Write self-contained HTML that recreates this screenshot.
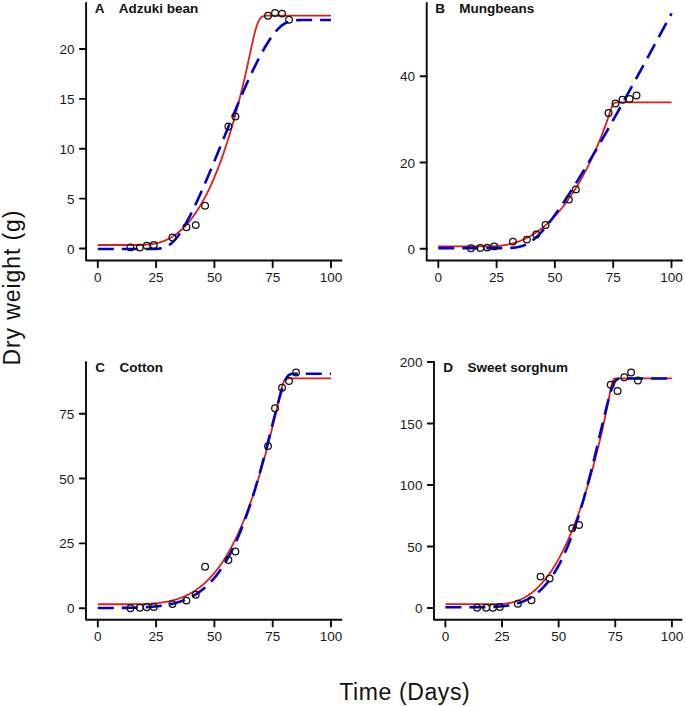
<!DOCTYPE html>
<html><head><meta charset="utf-8"><style>
html,body{margin:0;padding:0;background:#fff;}
body{width:685px;height:706px;overflow:hidden;position:relative;}
svg{position:absolute;left:0;top:0;}
.ax{stroke:#0a0a0a;stroke-width:1.9;fill:none;stroke-linecap:round;stroke-linejoin:round;}
.tl{font-family:"Liberation Sans",sans-serif;font-size:13.5px;fill:#1a1a1a;}
.tt{font-family:"Liberation Sans",sans-serif;font-size:13.5px;font-weight:bold;fill:#111;}
.lab{font-family:"Liberation Sans",sans-serif;font-size:23px;fill:#111;}
.red{stroke:#dc1e1e;stroke-width:1.8;fill:none;stroke-linejoin:round;}
.blue{stroke:#0000c8;stroke-width:2.6;fill:none;stroke-dasharray:16 8;stroke-linejoin:round;}
.pt{stroke:#111;stroke-width:1.25;fill:none;}
</style></head><body>
<svg width="685" height="706" viewBox="0 0 685 706">
<path d="M86.1 2.9V260.5H341.5" class="ax"/>
<path d="M97.8 260.5V267.3" class="ax"/>
<text x="97.8" y="281.9" class="tl" text-anchor="middle">0</text>
<path d="M156.1 260.5V267.3" class="ax"/>
<text x="156.1" y="281.9" class="tl" text-anchor="middle">25</text>
<path d="M214.4 260.5V267.3" class="ax"/>
<text x="214.4" y="281.9" class="tl" text-anchor="middle">50</text>
<path d="M272.7 260.5V267.3" class="ax"/>
<text x="272.7" y="281.9" class="tl" text-anchor="middle">75</text>
<path d="M331 260.5V267.3" class="ax"/>
<text x="331" y="281.9" class="tl" text-anchor="middle">100</text>
<path d="M79.9 248.5H86.1" class="ax"/>
<text x="74.5" y="253.5" class="tl" text-anchor="end">0</text>
<path d="M79.9 198.62H86.1" class="ax"/>
<text x="74.5" y="203.62" class="tl" text-anchor="end">5</text>
<path d="M79.9 148.75H86.1" class="ax"/>
<text x="74.5" y="153.75" class="tl" text-anchor="end">10</text>
<path d="M79.9 98.88H86.1" class="ax"/>
<text x="74.5" y="103.88" class="tl" text-anchor="end">15</text>
<path d="M79.9 49H86.1" class="ax"/>
<text x="74.5" y="54" class="tl" text-anchor="end">20</text>
<text x="94.7" y="13.4" class="tt">A</text>
<text x="118.7" y="13.4" class="tt">Adzuki bean</text>
<path d="M97.80 245.02 98.09 245.02 98.38 245.02 98.67 245.02 98.97 245.02 99.26 245.02 99.55 245.02 99.84 245.02 100.13 245.02 100.42 245.02 100.72 245.02 101.01 245.02 101.30 245.02 101.59 245.02 101.88 245.02 102.17 245.02 102.46 245.02 102.76 245.02 103.05 245.02 103.34 245.02 103.63 245.02 103.92 245.02 104.21 245.02 104.50 245.02 104.80 245.02 105.09 245.02 105.38 245.02 105.67 245.02 105.96 245.02 106.25 245.02 106.55 245.02 106.84 245.02 107.13 245.02 107.42 245.02 107.71 245.02 108.00 245.02 108.29 245.02 108.59 245.02 108.88 245.02 109.17 245.02 109.46 245.02 109.75 245.02 110.04 245.02 110.33 245.02 110.63 245.02 110.92 245.02 111.21 245.02 111.50 245.02 111.79 245.02 112.08 245.02 112.38 245.02 112.67 245.02 112.96 245.02 113.25 245.02 113.54 245.02 113.83 245.02 114.12 245.02 114.42 245.02 114.71 245.02 115.00 245.02 115.29 245.02 115.58 245.02 115.87 245.02 116.16 245.02 116.46 245.02 116.75 245.02 117.04 245.02 117.33 245.02 117.62 245.02 117.91 245.02 118.20 245.02 118.50 245.02 118.79 245.02 119.08 245.02 119.37 245.02 119.66 245.02 119.95 245.02 120.25 245.02 120.54 245.02 120.83 245.02 121.12 245.02 121.41 245.02 121.70 245.02 121.99 245.02 122.29 245.02 122.58 245.02 122.87 245.02 123.16 245.02 123.45 245.02 123.74 245.02 124.03 245.02 124.33 245.02 124.62 245.02 124.91 245.02 125.20 245.02 125.49 245.02 125.78 245.02 126.08 245.02 126.37 245.02 126.66 245.02 126.95 245.02 127.24 245.02 127.53 245.02 127.82 245.02 128.12 245.02 128.41 245.02 128.70 245.02 128.99 245.02 129.28 245.02 129.57 245.02 129.87 245.02 130.16 245.02 130.45 245.02 130.74 245.02 131.03 245.02 131.32 245.02 131.61 245.02 131.91 245.02 132.20 245.02 132.49 245.02 132.78 245.02 133.07 245.02 133.36 245.02 133.65 245.02 133.95 245.02 134.24 245.02 134.53 245.02 134.82 245.02 135.11 245.02 135.40 245.02 135.69 245.02 135.99 245.02 136.28 245.01 136.57 245.01 136.86 245.01 137.15 245.01 137.44 245.01 137.74 245.00 138.03 245.00 138.32 245.00 138.61 245.00 138.90 244.99 139.19 244.99 139.48 244.98 139.78 244.98 140.07 244.97 140.36 244.97 140.65 244.96 140.94 244.96 141.23 244.95 141.52 244.94 141.82 244.93 142.11 244.92 142.40 244.91 142.69 244.90 142.98 244.89 143.27 244.88 143.57 244.87 143.86 244.86 144.15 244.84 144.44 244.83 144.73 244.81 145.02 244.80 145.31 244.78 145.61 244.76 145.90 244.74 146.19 244.72 146.48 244.70 146.77 244.68 147.06 244.66 147.35 244.63 147.65 244.61 147.94 244.58 148.23 244.55 148.52 244.53 148.81 244.50 149.10 244.47 149.40 244.43 149.69 244.40 149.98 244.37 150.27 244.33 150.56 244.30 150.85 244.26 151.14 244.22 151.44 244.18 151.73 244.14 152.02 244.09 152.31 244.05 152.60 244.00 152.89 243.95 153.19 243.91 153.48 243.86 153.77 243.80 154.06 243.75 154.35 243.70 154.64 243.64 154.93 243.58 155.23 243.52 155.52 243.46 155.81 243.40 156.10 243.33 156.39 243.27 156.68 243.20 156.97 243.13 157.27 243.06 157.56 242.99 157.85 242.91 158.14 242.84 158.43 242.76 158.72 242.68 159.01 242.60 159.31 242.52 159.60 242.43 159.89 242.34 160.18 242.26 160.47 242.17 160.76 242.07 161.06 241.98 161.35 241.88 161.64 241.78 161.93 241.68 162.22 241.58 162.51 241.48 162.80 241.37 163.10 241.26 163.39 241.15 163.68 241.04 163.97 240.93 164.26 240.81 164.55 240.69 164.84 240.57 165.14 240.45 165.43 240.33 165.72 240.20 166.01 240.07 166.30 239.94 166.59 239.80 166.89 239.67 167.18 239.53 167.47 239.39 167.76 239.25 168.05 239.10 168.34 238.96 168.63 238.81 168.93 238.66 169.22 238.50 169.51 238.35 169.80 238.19 170.09 238.03 170.38 237.86 170.68 237.70 170.97 237.53 171.26 237.36 171.55 237.18 171.84 237.01 172.13 236.83 172.42 236.65 172.72 236.46 173.01 236.28 173.30 236.09 173.59 235.90 173.88 235.71 174.17 235.51 174.46 235.31 174.76 235.11 175.05 234.91 175.34 234.70 175.63 234.49 175.92 234.28 176.21 234.06 176.50 233.85 176.80 233.63 177.09 233.40 177.38 233.18 177.67 232.95 177.96 232.72 178.25 232.48 178.55 232.25 178.84 232.01 179.13 231.76 179.42 231.52 179.71 231.27 180.00 231.02 180.29 230.77 180.59 230.51 180.88 230.25 181.17 229.99 181.46 229.72 181.75 229.45 182.04 229.18 182.33 228.90 182.63 228.63 182.92 228.35 183.21 228.06 183.50 227.78 183.79 227.49 184.08 227.19 184.38 226.90 184.67 226.60 184.96 226.29 185.25 225.99 185.54 225.68 185.83 225.37 186.12 225.05 186.42 224.74 186.71 224.41 187.00 224.09 187.29 223.76 187.58 223.43 187.87 223.10 188.16 222.76 188.46 222.42 188.75 222.07 189.04 221.73 189.33 221.38 189.62 221.02 189.91 220.66 190.21 220.30 190.50 219.94 190.79 219.57 191.08 219.20 191.37 218.82 191.66 218.45 191.95 218.07 192.25 217.68 192.54 217.29 192.83 216.90 193.12 216.50 193.41 216.11 193.70 215.70 194.00 215.30 194.29 214.89 194.58 214.47 194.87 214.06 195.16 213.64 195.45 213.21 195.74 212.78 196.04 212.35 196.33 211.92 196.62 211.48 196.91 211.04 197.20 210.59 197.49 210.14 197.78 209.69 198.08 209.23 198.37 208.77 198.66 208.30 198.95 207.84 199.24 207.36 199.53 206.89 199.82 206.41 200.12 205.92 200.41 205.44 200.70 204.94 200.99 204.45 201.28 203.95 201.57 203.45 201.87 202.94 202.16 202.43 202.45 201.91 202.74 201.39 203.03 200.87 203.32 200.34 203.61 199.81 203.91 199.28 204.20 198.74 204.49 198.19 204.78 197.65 205.07 197.10 205.36 196.54 205.65 195.98 205.95 195.42 206.24 194.85 206.53 194.28 206.82 193.70 207.11 193.12 207.40 192.54 207.70 191.95 207.99 191.36 208.28 190.76 208.57 190.16 208.86 189.55 209.15 188.94 209.44 188.33 209.74 187.71 210.03 187.09 210.32 186.46 210.61 185.83 210.90 185.19 211.19 184.55 211.48 183.91 211.78 183.26 212.07 182.61 212.36 181.95 212.65 181.29 212.94 180.62 213.23 179.95 213.53 179.27 213.82 178.59 214.11 177.91 214.40 177.22 214.69 176.52 214.98 175.83 215.27 175.12 215.57 174.42 215.86 173.70 216.15 172.99 216.44 172.27 216.73 171.54 217.02 170.81 217.31 170.07 217.61 169.33 217.90 168.59 218.19 167.84 218.48 167.09 218.77 166.33 219.06 165.56 219.36 164.79 219.65 164.02 219.94 163.24 220.23 162.46 220.52 161.67 220.81 160.88 221.10 160.08 221.40 159.28 221.69 158.47 221.98 157.66 222.27 156.84 222.56 156.02 222.85 155.19 223.14 154.36 223.44 153.52 223.73 152.68 224.02 151.84 224.31 150.98 224.60 150.13 224.89 149.26 225.19 148.40 225.48 147.52 225.77 146.65 226.06 145.76 226.35 144.87 226.64 143.98 226.93 143.08 227.23 142.18 227.52 141.27 227.81 140.36 228.10 139.44 228.39 138.51 228.68 137.58 228.97 136.65 229.27 135.71 229.56 134.76 229.85 133.81 230.14 132.85 230.43 131.89 230.72 130.92 231.02 129.95 231.31 128.97 231.60 127.99 231.89 127.00 232.18 126.00 232.47 125.00 232.76 123.99 233.06 122.98 233.35 121.96 233.64 120.94 233.93 119.91 234.22 118.88 234.51 117.84 234.81 116.79 235.10 115.74 235.39 114.68 235.68 113.62 235.97 112.55 236.26 111.47 236.55 110.39 236.85 109.30 237.14 108.21 237.43 107.11 237.72 106.01 238.01 104.90 238.30 103.78 238.59 102.66 238.89 101.53 239.18 100.39 239.47 99.25 239.76 98.10 240.05 96.95 240.34 95.79 240.63 94.62 240.93 93.45 241.22 92.27 241.51 91.09 241.80 89.90 242.09 88.70 242.38 87.49 242.68 86.28 242.97 85.06 243.26 83.84 243.55 82.61 243.84 81.37 244.13 80.13 244.42 78.88 244.72 77.62 245.01 76.35 245.30 75.08 245.59 73.80 245.88 72.52 246.17 71.23 246.46 69.93 246.76 68.63 247.05 67.32 247.34 66.00 247.63 64.68 247.92 63.35 248.21 62.01 248.51 60.67 248.80 59.33 249.09 57.98 249.38 56.63 249.67 55.28 249.96 53.92 250.25 52.57 250.55 51.21 250.84 49.86 251.13 48.51 251.42 47.16 251.71 45.82 252.00 44.49 252.29 43.17 252.59 41.86 252.88 40.56 253.17 39.28 253.46 38.02 253.75 36.78 254.04 35.56 254.34 34.37 254.63 33.20 254.92 32.07 255.21 30.97 255.50 29.91 255.79 28.88 256.08 27.89 256.38 26.94 256.67 26.03 256.96 25.16 257.25 24.34 257.54 23.57 257.83 22.83 258.12 22.15 258.42 21.51 258.71 20.91 259.00 20.35 259.29 19.84 259.58 19.37 259.87 18.94 260.17 18.54 260.46 18.18 260.75 17.86 261.04 17.57 261.33 17.31 261.62 17.08 261.91 16.87 262.21 16.69 262.50 16.53 262.79 16.39 263.08 16.27 263.37 16.17 263.66 16.08 263.95 16.00 264.25 15.93 264.54 15.88 264.83 15.83 265.12 15.79 265.41 15.76 265.70 15.73 266.00 15.70 266.29 15.69 266.58 15.67 266.87 15.66 267.16 15.65 267.45 15.64 267.74 15.63 268.04 15.63 268.33 15.62 268.62 15.62 268.91 15.62 269.20 15.62 269.49 15.61 269.78 15.61 270.08 15.61 270.37 15.61 270.66 15.61 270.95 15.61 271.24 15.61 271.53 15.61 271.83 15.61 272.12 15.61 272.41 15.61 272.70 15.61 272.99 15.61 273.28 15.61 273.57 15.61 273.87 15.61 274.16 15.61 274.45 15.61 274.74 15.61 275.03 15.61 275.32 15.61 275.62 15.61 275.91 15.61 276.20 15.61 276.49 15.61 276.78 15.61 277.07 15.61 277.36 15.61 277.66 15.61 277.95 15.61 278.24 15.61 278.53 15.61 278.82 15.61 279.11 15.61 279.40 15.61 279.70 15.61 279.99 15.61 280.28 15.61 280.57 15.61 280.86 15.61 281.15 15.61 281.44 15.61 281.74 15.61 282.03 15.61 282.32 15.61 282.61 15.61 282.90 15.61 283.19 15.61 283.49 15.61 283.78 15.61 284.07 15.61 284.36 15.61 284.65 15.61 284.94 15.61 285.23 15.61 285.53 15.61 285.82 15.61 286.11 15.61 286.40 15.61 286.69 15.61 286.98 15.61 287.27 15.61 287.57 15.61 287.86 15.61 288.15 15.61 288.44 15.61 288.73 15.61 289.02 15.61 289.32 15.61 289.61 15.61 289.90 15.61 290.19 15.61 290.48 15.61 290.77 15.61 291.06 15.61 291.36 15.61 291.65 15.61 291.94 15.61 292.23 15.61 292.52 15.61 292.81 15.61 293.10 15.61 293.40 15.61 293.69 15.61 293.98 15.61 294.27 15.61 294.56 15.61 294.85 15.61 295.15 15.61 295.44 15.61 295.73 15.61 296.02 15.61 296.31 15.61 296.60 15.61 296.89 15.61 297.19 15.61 297.48 15.61 297.77 15.61 298.06 15.61 298.35 15.61 298.64 15.61 298.94 15.61 299.23 15.61 299.52 15.61 299.81 15.61 300.10 15.61 300.39 15.61 300.68 15.61 300.98 15.61 301.27 15.61 301.56 15.61 301.85 15.61 302.14 15.61 302.43 15.61 302.72 15.61 303.02 15.61 303.31 15.61 303.60 15.61 303.89 15.61 304.18 15.61 304.47 15.61 304.76 15.61 305.06 15.61 305.35 15.61 305.64 15.61 305.93 15.61 306.22 15.61 306.51 15.61 306.81 15.61 307.10 15.61 307.39 15.61 307.68 15.61 307.97 15.61 308.26 15.61 308.55 15.61 308.85 15.61 309.14 15.61 309.43 15.61 309.72 15.61 310.01 15.61 310.30 15.61 310.59 15.61 310.89 15.61 311.18 15.61 311.47 15.61 311.76 15.61 312.05 15.61 312.34 15.61 312.64 15.61 312.93 15.61 313.22 15.61 313.51 15.61 313.80 15.61 314.09 15.61 314.38 15.61 314.68 15.61 314.97 15.61 315.26 15.61 315.55 15.61 315.84 15.61 316.13 15.61 316.43 15.61 316.72 15.61 317.01 15.61 317.30 15.61 317.59 15.61 317.88 15.61 318.17 15.61 318.47 15.61 318.76 15.61 319.05 15.61 319.34 15.61 319.63 15.61 319.92 15.61 320.21 15.61 320.51 15.61 320.80 15.61 321.09 15.61 321.38 15.61 321.67 15.61 321.96 15.61 322.25 15.61 322.55 15.61 322.84 15.61 323.13 15.61 323.42 15.61 323.71 15.61 324.00 15.61 324.30 15.61 324.59 15.61 324.88 15.61 325.17 15.61 325.46 15.61 325.75 15.61 326.04 15.61 326.34 15.61 326.63 15.61 326.92 15.61 327.21 15.61 327.50 15.61 327.79 15.61 328.08 15.61 328.38 15.61 328.67 15.61 328.96 15.61 329.25 15.61 329.54 15.61 329.83 15.61 330.13 15.61 330.42 15.61 330.71 15.61 331.00 15.61" class="red"/>
<path d="M97.80 249.05 98.09 249.05 98.38 249.05 98.67 249.05 98.97 249.05 99.26 249.05 99.55 249.05 99.84 249.05 100.13 249.05 100.42 249.05 100.72 249.05 101.01 249.05 101.30 249.05 101.59 249.05 101.88 249.05 102.17 249.05 102.46 249.05 102.76 249.05 103.05 249.05 103.34 249.05 103.63 249.05 103.92 249.05 104.21 249.05 104.50 249.05 104.80 249.05 105.09 249.05 105.38 249.05 105.67 249.05 105.96 249.05 106.25 249.05 106.55 249.05 106.84 249.05 107.13 249.05 107.42 249.05 107.71 249.05 108.00 249.05 108.29 249.05 108.59 249.05 108.88 249.05 109.17 249.05 109.46 249.05 109.75 249.05 110.04 249.05 110.33 249.05 110.63 249.05 110.92 249.05 111.21 249.05 111.50 249.05 111.79 249.05 112.08 249.05 112.38 249.05 112.67 249.05 112.96 249.05 113.25 249.05 113.54 249.05 113.83 249.05 114.12 249.05 114.42 249.05 114.71 249.05 115.00 249.05 115.29 249.05 115.58 249.05 115.87 249.05 116.16 249.05 116.46 249.05 116.75 249.05 117.04 249.05 117.33 249.05 117.62 249.05 117.91 249.05 118.20 249.05 118.50 249.05 118.79 249.05 119.08 249.05 119.37 249.05 119.66 249.05 119.95 249.05 120.25 249.05 120.54 249.05 120.83 249.05 121.12 249.05 121.41 249.05 121.70 249.05 121.99 249.05 122.29 249.05 122.58 249.05 122.87 249.05 123.16 249.05 123.45 249.05 123.74 249.05 124.03 249.05 124.33 249.05 124.62 249.05 124.91 249.05 125.20 249.05 125.49 249.05 125.78 249.05 126.08 249.05 126.37 249.05 126.66 249.05 126.95 249.05 127.24 249.05 127.53 249.05 127.82 249.05 128.12 249.05 128.41 249.05 128.70 249.05 128.99 249.05 129.28 249.05 129.57 249.05 129.87 249.05 130.16 249.05 130.45 249.05 130.74 249.05 131.03 249.05 131.32 249.05 131.61 249.05 131.91 249.05 132.20 249.05 132.49 249.05 132.78 249.05 133.07 249.05 133.36 249.05 133.65 249.05 133.95 249.05 134.24 249.05 134.53 249.05 134.82 249.05 135.11 249.05 135.40 249.05 135.69 249.05 135.99 249.05 136.28 249.05 136.57 249.05 136.86 249.05 137.15 249.05 137.44 249.05 137.74 249.05 138.03 249.05 138.32 249.05 138.61 249.05 138.90 249.05 139.19 249.05 139.48 249.05 139.78 249.05 140.07 249.05 140.36 249.05 140.65 249.05 140.94 249.05 141.23 249.05 141.52 249.05 141.82 249.05 142.11 249.05 142.40 249.05 142.69 249.05 142.98 249.05 143.27 249.05 143.57 249.05 143.86 249.05 144.15 249.05 144.44 249.05 144.73 249.05 145.02 249.05 145.31 249.05 145.61 249.05 145.90 249.05 146.19 249.05 146.48 249.05 146.77 249.05 147.06 249.05 147.35 249.05 147.65 249.05 147.94 249.05 148.23 249.04 148.52 249.04 148.81 249.04 149.10 249.04 149.40 249.04 149.69 249.04 149.98 249.03 150.27 249.03 150.56 249.03 150.85 249.02 151.14 249.02 151.44 249.02 151.73 249.01 152.02 249.01 152.31 249.00 152.60 249.00 152.89 248.99 153.19 248.98 153.48 248.98 153.77 248.97 154.06 248.96 154.35 248.95 154.64 248.94 154.93 248.93 155.23 248.91 155.52 248.90 155.81 248.88 156.10 248.87 156.39 248.85 156.68 248.83 156.97 248.81 157.27 248.79 157.56 248.76 157.85 248.74 158.14 248.71 158.43 248.68 158.72 248.65 159.01 248.61 159.31 248.57 159.60 248.53 159.89 248.49 160.18 248.45 160.47 248.40 160.76 248.35 161.06 248.30 161.35 248.24 161.64 248.18 161.93 248.11 162.22 248.05 162.51 247.97 162.80 247.90 163.10 247.82 163.39 247.73 163.68 247.65 163.97 247.55 164.26 247.46 164.55 247.35 164.84 247.25 165.14 247.13 165.43 247.01 165.72 246.89 166.01 246.76 166.30 246.63 166.59 246.49 166.89 246.34 167.18 246.19 167.47 246.04 167.76 245.87 168.05 245.70 168.34 245.53 168.63 245.35 168.93 245.16 169.22 244.96 169.51 244.76 169.80 244.55 170.09 244.34 170.38 244.12 170.68 243.89 170.97 243.66 171.26 243.42 171.55 243.17 171.84 242.91 172.13 242.65 172.42 242.38 172.72 242.11 173.01 241.83 173.30 241.54 173.59 241.24 173.88 240.94 174.17 240.63 174.46 240.32 174.76 240.00 175.05 239.67 175.34 239.34 175.63 238.99 175.92 238.65 176.21 238.29 176.50 237.93 176.80 237.57 177.09 237.20 177.38 236.82 177.67 236.44 177.96 236.05 178.25 235.65 178.55 235.25 178.84 234.84 179.13 234.43 179.42 234.01 179.71 233.59 180.00 233.16 180.29 232.73 180.59 232.29 180.88 231.84 181.17 231.39 181.46 230.94 181.75 230.48 182.04 230.02 182.33 229.55 182.63 229.08 182.92 228.60 183.21 228.12 183.50 227.63 183.79 227.14 184.08 226.64 184.38 226.14 184.67 225.64 184.96 225.13 185.25 224.62 185.54 224.11 185.83 223.59 186.12 223.07 186.42 222.54 186.71 222.01 187.00 221.47 187.29 220.94 187.58 220.40 187.87 219.85 188.16 219.30 188.46 218.75 188.75 218.20 189.04 217.64 189.33 217.08 189.62 216.52 189.91 215.95 190.21 215.38 190.50 214.81 190.79 214.23 191.08 213.65 191.37 213.07 191.66 212.49 191.95 211.90 192.25 211.31 192.54 210.72 192.83 210.12 193.12 209.53 193.41 208.93 193.70 208.32 194.00 207.72 194.29 207.11 194.58 206.50 194.87 205.89 195.16 205.27 195.45 204.66 195.74 204.04 196.04 203.42 196.33 202.79 196.62 202.17 196.91 201.54 197.20 200.91 197.49 200.28 197.78 199.64 198.08 199.01 198.37 198.37 198.66 197.73 198.95 197.09 199.24 196.44 199.53 195.80 199.82 195.15 200.12 194.50 200.41 193.85 200.70 193.20 200.99 192.54 201.28 191.89 201.57 191.23 201.87 190.57 202.16 189.91 202.45 189.25 202.74 188.58 203.03 187.92 203.32 187.25 203.61 186.58 203.91 185.91 204.20 185.24 204.49 184.57 204.78 183.89 205.07 183.22 205.36 182.54 205.65 181.86 205.95 181.18 206.24 180.50 206.53 179.82 206.82 179.14 207.11 178.46 207.40 177.77 207.70 177.08 207.99 176.40 208.28 175.71 208.57 175.02 208.86 174.33 209.15 173.64 209.44 172.94 209.74 172.25 210.03 171.56 210.32 170.86 210.61 170.17 210.90 169.47 211.19 168.77 211.48 168.07 211.78 167.37 212.07 166.67 212.36 165.97 212.65 165.27 212.94 164.57 213.23 163.87 213.53 163.16 213.82 162.46 214.11 161.75 214.40 161.05 214.69 160.34 214.98 159.63 215.27 158.93 215.57 158.22 215.86 157.51 216.15 156.80 216.44 156.09 216.73 155.38 217.02 154.67 217.31 153.96 217.61 153.25 217.90 152.54 218.19 151.83 218.48 151.12 218.77 150.41 219.06 149.69 219.36 148.98 219.65 148.27 219.94 147.56 220.23 146.84 220.52 146.13 220.81 145.42 221.10 144.70 221.40 143.99 221.69 143.27 221.98 142.56 222.27 141.85 222.56 141.13 222.85 140.42 223.14 139.70 223.44 138.99 223.73 138.28 224.02 137.56 224.31 136.85 224.60 136.13 224.89 135.42 225.19 134.71 225.48 133.99 225.77 133.28 226.06 132.57 226.35 131.86 226.64 131.14 226.93 130.43 227.23 129.72 227.52 129.01 227.81 128.30 228.10 127.58 228.39 126.87 228.68 126.16 228.97 125.45 229.27 124.74 229.56 124.04 229.85 123.33 230.14 122.62 230.43 121.91 230.72 121.20 231.02 120.50 231.31 119.79 231.60 119.09 231.89 118.38 232.18 117.68 232.47 116.97 232.76 116.27 233.06 115.57 233.35 114.87 233.64 114.17 233.93 113.47 234.22 112.77 234.51 112.07 234.81 111.37 235.10 110.67 235.39 109.98 235.68 109.28 235.97 108.58 236.26 107.89 236.55 107.20 236.85 106.51 237.14 105.81 237.43 105.12 237.72 104.44 238.01 103.75 238.30 103.06 238.59 102.37 238.89 101.69 239.18 101.00 239.47 100.32 239.76 99.64 240.05 98.96 240.34 98.28 240.63 97.60 240.93 96.92 241.22 96.25 241.51 95.57 241.80 94.90 242.09 94.23 242.38 93.56 242.68 92.89 242.97 92.22 243.26 91.55 243.55 90.88 243.84 90.22 244.13 89.56 244.42 88.90 244.72 88.24 245.01 87.58 245.30 86.92 245.59 86.27 245.88 85.61 246.17 84.96 246.46 84.31 246.76 83.66 247.05 83.01 247.34 82.37 247.63 81.72 247.92 81.08 248.21 80.44 248.51 79.80 248.80 79.16 249.09 78.53 249.38 77.89 249.67 77.26 249.96 76.63 250.25 76.00 250.55 75.37 250.84 74.75 251.13 74.13 251.42 73.51 251.71 72.89 252.00 72.27 252.29 71.66 252.59 71.04 252.88 70.43 253.17 69.82 253.46 69.22 253.75 68.61 254.04 68.01 254.34 67.41 254.63 66.81 254.92 66.22 255.21 65.63 255.50 65.04 255.79 64.45 256.08 63.86 256.38 63.28 256.67 62.70 256.96 62.12 257.25 61.54 257.54 60.97 257.83 60.40 258.12 59.83 258.42 59.26 258.71 58.70 259.00 58.14 259.29 57.58 259.58 57.02 259.87 56.47 260.17 55.92 260.46 55.37 260.75 54.83 261.04 54.28 261.33 53.75 261.62 53.21 261.91 52.68 262.21 52.15 262.50 51.62 262.79 51.09 263.08 50.57 263.37 50.06 263.66 49.54 263.95 49.03 264.25 48.52 264.54 48.02 264.83 47.51 265.12 47.02 265.41 46.52 265.70 46.03 266.00 45.54 266.29 45.06 266.58 44.57 266.87 44.10 267.16 43.62 267.45 43.15 267.74 42.68 268.04 42.22 268.33 41.76 268.62 41.31 268.91 40.86 269.20 40.41 269.49 39.96 269.78 39.52 270.08 39.09 270.37 38.66 270.66 38.23 270.95 37.81 271.24 37.39 271.53 36.97 271.83 36.56 272.12 36.16 272.41 35.76 272.70 35.36 272.99 34.97 273.28 34.58 273.57 34.20 273.87 33.82 274.16 33.45 274.45 33.08 274.74 32.72 275.03 32.36 275.32 32.01 275.62 31.66 275.91 31.32 276.20 30.98 276.49 30.65 276.78 30.32 277.07 30.00 277.36 29.68 277.66 29.37 277.95 29.06 278.24 28.76 278.53 28.47 278.82 28.18 279.11 27.90 279.40 27.62 279.70 27.35 279.99 27.08 280.28 26.82 280.57 26.57 280.86 26.32 281.15 26.08 281.44 25.84 281.74 25.61 282.03 25.38 282.32 25.16 282.61 24.95 282.90 24.74 283.19 24.54 283.49 24.34 283.78 24.15 284.07 23.96 284.36 23.78 284.65 23.61 284.94 23.44 285.23 23.27 285.53 23.12 285.82 22.96 286.11 22.82 286.40 22.67 286.69 22.54 286.98 22.40 287.27 22.28 287.57 22.15 287.86 22.04 288.15 21.92 288.44 21.82 288.73 21.71 289.02 21.61 289.32 21.52 289.61 21.43 289.90 21.34 290.19 21.26 290.48 21.18 290.77 21.11 291.06 21.04 291.36 20.97 291.65 20.91 291.94 20.84 292.23 20.79 292.52 20.73 292.81 20.68 293.10 20.63 293.40 20.59 293.69 20.54 293.98 20.50 294.27 20.47 294.56 20.43 294.85 20.40 295.15 20.36 295.44 20.34 295.73 20.31 296.02 20.28 296.31 20.26 296.60 20.24 296.89 20.21 297.19 20.20 297.48 20.18 297.77 20.16 298.06 20.15 298.35 20.13 298.64 20.12 298.94 20.11 299.23 20.09 299.52 20.08 299.81 20.07 300.10 20.07 300.39 20.06 300.68 20.05 300.98 20.04 301.27 20.04 301.56 20.03 301.85 20.03 302.14 20.02 302.43 20.02 302.72 20.01 303.02 20.01 303.31 20.01 303.60 20.00 303.89 20.00 304.18 20.00 304.47 20.00 304.76 20.00 305.06 19.99 305.35 19.99 305.64 19.99 305.93 19.99 306.22 19.99 306.51 19.99 306.81 19.99 307.10 19.99 307.39 19.99 307.68 19.98 307.97 19.98 308.26 19.98 308.55 19.98 308.85 19.98 309.14 19.98 309.43 19.98 309.72 19.98 310.01 19.98 310.30 19.98 310.59 19.98 310.89 19.98 311.18 19.98 311.47 19.98 311.76 19.98 312.05 19.98 312.34 19.98 312.64 19.98 312.93 19.98 313.22 19.98 313.51 19.98 313.80 19.98 314.09 19.98 314.38 19.98 314.68 19.98 314.97 19.98 315.26 19.98 315.55 19.98 315.84 19.98 316.13 19.98 316.43 19.98 316.72 19.98 317.01 19.98 317.30 19.98 317.59 19.98 317.88 19.98 318.17 19.98 318.47 19.98 318.76 19.98 319.05 19.98 319.34 19.98 319.63 19.98 319.92 19.98 320.21 19.98 320.51 19.98 320.80 19.98 321.09 19.98 321.38 19.98 321.67 19.98 321.96 19.98 322.25 19.98 322.55 19.98 322.84 19.98 323.13 19.98 323.42 19.98 323.71 19.98 324.00 19.98 324.30 19.98 324.59 19.98 324.88 19.98 325.17 19.98 325.46 19.98 325.75 19.98 326.04 19.98 326.34 19.98 326.63 19.98 326.92 19.98 327.21 19.98 327.50 19.98 327.79 19.98 328.08 19.98 328.38 19.98 328.67 19.98 328.96 19.98 329.25 19.98 329.54 19.98 329.83 19.98 330.13 19.98 330.42 19.98 330.71 19.98 331.00 19.98" class="blue"/>
<circle cx="130.45" cy="247.4" r="3.35" class="pt"/>
<circle cx="139.78" cy="247.6" r="3.35" class="pt"/>
<circle cx="146.77" cy="245.8" r="3.35" class="pt"/>
<circle cx="153.77" cy="245" r="3.35" class="pt"/>
<circle cx="172.42" cy="237.5" r="3.35" class="pt"/>
<circle cx="186.42" cy="227.2" r="3.35" class="pt"/>
<circle cx="195.74" cy="225.1" r="3.35" class="pt"/>
<circle cx="205.07" cy="205.7" r="3.35" class="pt"/>
<circle cx="228.39" cy="126.5" r="3.35" class="pt"/>
<circle cx="235.39" cy="116.5" r="3.35" class="pt"/>
<circle cx="268.04" cy="15.7" r="3.35" class="pt"/>
<circle cx="275.03" cy="13" r="3.35" class="pt"/>
<circle cx="282.03" cy="13.6" r="3.35" class="pt"/>
<circle cx="289.02" cy="19.8" r="3.35" class="pt"/>
<path d="M426.7 2.9V260.5H682" class="ax"/>
<path d="M438.3 260.5V267.3" class="ax"/>
<text x="438.3" y="281.9" class="tl" text-anchor="middle">0</text>
<path d="M496.6 260.5V267.3" class="ax"/>
<text x="496.6" y="281.9" class="tl" text-anchor="middle">25</text>
<path d="M554.9 260.5V267.3" class="ax"/>
<text x="554.9" y="281.9" class="tl" text-anchor="middle">50</text>
<path d="M613.2 260.5V267.3" class="ax"/>
<text x="613.2" y="281.9" class="tl" text-anchor="middle">75</text>
<path d="M671.5 260.5V267.3" class="ax"/>
<text x="671.5" y="281.9" class="tl" text-anchor="middle">100</text>
<path d="M420.5 248.7H426.7" class="ax"/>
<text x="415.1" y="253.7" class="tl" text-anchor="end">0</text>
<path d="M420.5 162.5H426.7" class="ax"/>
<text x="415.1" y="167.5" class="tl" text-anchor="end">20</text>
<path d="M420.5 76.3H426.7" class="ax"/>
<text x="415.1" y="81.3" class="tl" text-anchor="end">40</text>
<text x="435.3" y="13.4" class="tt">B</text>
<text x="459.3" y="13.4" class="tt">Mungbeans</text>
<path d="M438.30 246.42 438.59 246.42 438.88 246.42 439.17 246.42 439.47 246.42 439.76 246.42 440.05 246.42 440.34 246.42 440.63 246.42 440.92 246.42 441.22 246.42 441.51 246.42 441.80 246.42 442.09 246.42 442.38 246.42 442.67 246.42 442.96 246.42 443.26 246.42 443.55 246.42 443.84 246.42 444.13 246.42 444.42 246.42 444.71 246.42 445.00 246.42 445.30 246.42 445.59 246.42 445.88 246.42 446.17 246.42 446.46 246.42 446.75 246.42 447.05 246.42 447.34 246.42 447.63 246.42 447.92 246.42 448.21 246.42 448.50 246.42 448.79 246.42 449.09 246.42 449.38 246.42 449.67 246.42 449.96 246.42 450.25 246.42 450.54 246.42 450.83 246.42 451.13 246.42 451.42 246.42 451.71 246.42 452.00 246.42 452.29 246.42 452.58 246.42 452.88 246.42 453.17 246.42 453.46 246.42 453.75 246.42 454.04 246.42 454.33 246.42 454.62 246.42 454.92 246.42 455.21 246.42 455.50 246.42 455.79 246.42 456.08 246.42 456.37 246.42 456.66 246.42 456.96 246.42 457.25 246.42 457.54 246.42 457.83 246.42 458.12 246.42 458.41 246.42 458.70 246.42 459.00 246.42 459.29 246.42 459.58 246.42 459.87 246.42 460.16 246.42 460.45 246.42 460.75 246.42 461.04 246.42 461.33 246.42 461.62 246.42 461.91 246.42 462.20 246.42 462.49 246.42 462.79 246.42 463.08 246.42 463.37 246.42 463.66 246.42 463.95 246.42 464.24 246.42 464.54 246.42 464.83 246.42 465.12 246.42 465.41 246.42 465.70 246.42 465.99 246.42 466.28 246.42 466.58 246.42 466.87 246.42 467.16 246.42 467.45 246.42 467.74 246.42 468.03 246.42 468.32 246.42 468.62 246.42 468.91 246.42 469.20 246.42 469.49 246.42 469.78 246.42 470.07 246.42 470.37 246.42 470.66 246.42 470.95 246.42 471.24 246.42 471.53 246.42 471.82 246.42 472.11 246.42 472.41 246.42 472.70 246.42 472.99 246.42 473.28 246.42 473.57 246.42 473.86 246.42 474.15 246.42 474.45 246.42 474.74 246.42 475.03 246.42 475.32 246.42 475.61 246.42 475.90 246.42 476.19 246.42 476.49 246.42 476.78 246.42 477.07 246.42 477.36 246.42 477.65 246.42 477.94 246.42 478.24 246.42 478.53 246.42 478.82 246.42 479.11 246.42 479.40 246.42 479.69 246.42 479.98 246.42 480.28 246.42 480.57 246.42 480.86 246.42 481.15 246.42 481.44 246.42 481.73 246.42 482.02 246.42 482.32 246.42 482.61 246.42 482.90 246.42 483.19 246.42 483.48 246.42 483.77 246.42 484.07 246.42 484.36 246.42 484.65 246.42 484.94 246.42 485.23 246.42 485.52 246.42 485.81 246.42 486.11 246.42 486.40 246.42 486.69 246.42 486.98 246.42 487.27 246.42 487.56 246.41 487.86 246.41 488.15 246.41 488.44 246.40 488.73 246.40 489.02 246.40 489.31 246.39 489.60 246.39 489.90 246.38 490.19 246.38 490.48 246.37 490.77 246.36 491.06 246.35 491.35 246.35 491.64 246.34 491.94 246.33 492.23 246.32 492.52 246.30 492.81 246.29 493.10 246.28 493.39 246.27 493.69 246.25 493.98 246.24 494.27 246.22 494.56 246.21 494.85 246.19 495.14 246.17 495.43 246.15 495.73 246.13 496.02 246.11 496.31 246.09 496.60 246.07 496.89 246.05 497.18 246.03 497.47 246.00 497.77 245.98 498.06 245.95 498.35 245.92 498.64 245.90 498.93 245.87 499.22 245.84 499.51 245.81 499.81 245.78 500.10 245.74 500.39 245.71 500.68 245.68 500.97 245.64 501.26 245.60 501.56 245.57 501.85 245.53 502.14 245.49 502.43 245.45 502.72 245.41 503.01 245.37 503.30 245.32 503.60 245.28 503.89 245.24 504.18 245.19 504.47 245.14 504.76 245.09 505.05 245.04 505.35 244.99 505.64 244.94 505.93 244.89 506.22 244.84 506.51 244.78 506.80 244.73 507.09 244.67 507.39 244.61 507.68 244.55 507.97 244.49 508.26 244.43 508.55 244.37 508.84 244.30 509.13 244.24 509.43 244.17 509.72 244.10 510.01 244.04 510.30 243.97 510.59 243.90 510.88 243.82 511.18 243.75 511.47 243.68 511.76 243.60 512.05 243.52 512.34 243.45 512.63 243.37 512.92 243.29 513.22 243.20 513.51 243.12 513.80 243.04 514.09 242.95 514.38 242.87 514.67 242.78 514.96 242.69 515.26 242.60 515.55 242.51 515.84 242.41 516.13 242.32 516.42 242.22 516.71 242.13 517.00 242.03 517.30 241.93 517.59 241.83 517.88 241.72 518.17 241.62 518.46 241.52 518.75 241.41 519.05 241.30 519.34 241.19 519.63 241.08 519.92 240.97 520.21 240.86 520.50 240.74 520.79 240.63 521.09 240.51 521.38 240.39 521.67 240.27 521.96 240.15 522.25 240.03 522.54 239.90 522.84 239.78 523.13 239.65 523.42 239.52 523.71 239.39 524.00 239.26 524.29 239.13 524.58 238.99 524.88 238.86 525.17 238.72 525.46 238.58 525.75 238.44 526.04 238.30 526.33 238.16 526.62 238.01 526.92 237.87 527.21 237.72 527.50 237.57 527.79 237.42 528.08 237.27 528.37 237.11 528.66 236.96 528.96 236.80 529.25 236.64 529.54 236.48 529.83 236.32 530.12 236.16 530.41 235.99 530.71 235.83 531.00 235.66 531.29 235.49 531.58 235.32 531.87 235.15 532.16 234.97 532.45 234.80 532.75 234.62 533.04 234.44 533.33 234.26 533.62 234.08 533.91 233.90 534.20 233.71 534.50 233.53 534.79 233.34 535.08 233.15 535.37 232.96 535.66 232.76 535.95 232.57 536.24 232.37 536.54 232.17 536.83 231.97 537.12 231.77 537.41 231.57 537.70 231.36 537.99 231.16 538.28 230.95 538.58 230.74 538.87 230.53 539.16 230.31 539.45 230.10 539.74 229.88 540.03 229.66 540.33 229.44 540.62 229.22 540.91 229.00 541.20 228.77 541.49 228.55 541.78 228.32 542.07 228.09 542.37 227.85 542.66 227.62 542.95 227.38 543.24 227.15 543.53 226.91 543.82 226.67 544.11 226.42 544.41 226.18 544.70 225.93 544.99 225.68 545.28 225.43 545.57 225.18 545.86 224.93 546.15 224.67 546.45 224.41 546.74 224.15 547.03 223.89 547.32 223.63 547.61 223.37 547.90 223.10 548.20 222.83 548.49 222.56 548.78 222.29 549.07 222.01 549.36 221.74 549.65 221.46 549.94 221.18 550.24 220.90 550.53 220.61 550.82 220.33 551.11 220.04 551.40 219.75 551.69 219.46 551.99 219.17 552.28 218.87 552.57 218.58 552.86 218.28 553.15 217.98 553.44 217.67 553.73 217.37 554.03 217.06 554.32 216.75 554.61 216.44 554.90 216.13 555.19 215.82 555.48 215.50 555.77 215.18 556.07 214.86 556.36 214.54 556.65 214.21 556.94 213.89 557.23 213.56 557.52 213.23 557.82 212.89 558.11 212.56 558.40 212.22 558.69 211.88 558.98 211.54 559.27 211.20 559.56 210.85 559.86 210.51 560.15 210.16 560.44 209.81 560.73 209.45 561.02 209.10 561.31 208.74 561.60 208.38 561.90 208.02 562.19 207.65 562.48 207.29 562.77 206.92 563.06 206.55 563.35 206.18 563.64 205.80 563.94 205.43 564.23 205.05 564.52 204.67 564.81 204.28 565.10 203.90 565.39 203.51 565.69 203.12 565.98 202.73 566.27 202.33 566.56 201.94 566.85 201.54 567.14 201.14 567.43 200.74 567.73 200.33 568.02 199.92 568.31 199.51 568.60 199.10 568.89 198.69 569.18 198.27 569.48 197.85 569.77 197.43 570.06 197.01 570.35 196.58 570.64 196.15 570.93 195.72 571.22 195.29 571.52 194.86 571.81 194.42 572.10 193.98 572.39 193.54 572.68 193.09 572.97 192.65 573.26 192.20 573.56 191.75 573.85 191.29 574.14 190.84 574.43 190.38 574.72 189.92 575.01 189.45 575.31 188.99 575.60 188.52 575.89 188.05 576.18 187.57 576.47 187.10 576.76 186.62 577.05 186.14 577.35 185.66 577.64 185.17 577.93 184.68 578.22 184.19 578.51 183.70 578.80 183.20 579.09 182.71 579.39 182.21 579.68 181.70 579.97 181.20 580.26 180.69 580.55 180.18 580.84 179.66 581.13 179.15 581.43 178.63 581.72 178.11 582.01 177.58 582.30 177.06 582.59 176.53 582.88 176.00 583.18 175.46 583.47 174.92 583.76 174.38 584.05 173.84 584.34 173.30 584.63 172.75 584.92 172.20 585.22 171.64 585.51 171.09 585.80 170.53 586.09 169.97 586.38 169.40 586.67 168.83 586.97 168.26 587.26 167.69 587.55 167.11 587.84 166.53 588.13 165.95 588.42 165.37 588.71 164.78 589.01 164.19 589.30 163.59 589.59 163.00 589.88 162.40 590.17 161.80 590.46 161.19 590.75 160.58 591.05 159.97 591.34 159.35 591.63 158.74 591.92 158.12 592.21 157.49 592.50 156.86 592.79 156.23 593.09 155.60 593.38 154.96 593.67 154.32 593.96 153.68 594.25 153.03 594.54 152.38 594.84 151.73 595.13 151.07 595.42 150.41 595.71 149.75 596.00 149.08 596.29 148.41 596.58 147.74 596.88 147.06 597.17 146.38 597.46 145.70 597.75 145.01 598.04 144.32 598.33 143.62 598.62 142.92 598.92 142.22 599.21 141.51 599.50 140.80 599.79 140.09 600.08 139.37 600.37 138.65 600.67 137.92 600.96 137.19 601.25 136.46 601.54 135.72 601.83 134.97 602.12 134.23 602.41 133.48 602.71 132.72 603.00 131.96 603.29 131.19 603.58 130.42 603.87 129.65 604.16 128.87 604.46 128.08 604.75 127.29 605.04 126.50 605.33 125.69 605.62 124.89 605.91 124.08 606.20 123.26 606.50 122.43 606.79 121.60 607.08 120.76 607.37 119.92 607.66 119.07 607.95 118.21 608.24 117.35 608.54 116.48 608.83 115.61 609.12 114.73 609.41 113.85 609.70 112.97 609.99 112.09 610.28 111.23 610.58 110.37 610.87 109.54 611.16 108.73 611.45 107.96 611.74 107.22 612.03 106.54 612.33 105.90 612.62 105.32 612.91 104.81 613.20 104.35 613.49 103.95 613.78 103.62 614.07 103.34 614.37 103.11 614.66 102.93 614.95 102.78 615.24 102.68 615.53 102.59 615.82 102.53 616.12 102.49 616.41 102.46 616.70 102.44 616.99 102.42 617.28 102.41 617.57 102.41 617.86 102.40 618.16 102.40 618.45 102.40 618.74 102.40 619.03 102.40 619.32 102.40 619.61 102.40 619.90 102.40 620.20 102.40 620.49 102.40 620.78 102.40 621.07 102.40 621.36 102.40 621.65 102.40 621.94 102.40 622.24 102.40 622.53 102.40 622.82 102.40 623.11 102.40 623.40 102.40 623.69 102.40 623.99 102.40 624.28 102.40 624.57 102.40 624.86 102.40 625.15 102.40 625.44 102.40 625.73 102.40 626.03 102.40 626.32 102.40 626.61 102.40 626.90 102.40 627.19 102.40 627.48 102.40 627.77 102.40 628.07 102.40 628.36 102.40 628.65 102.40 628.94 102.40 629.23 102.40 629.52 102.40 629.82 102.40 630.11 102.40 630.40 102.40 630.69 102.40 630.98 102.40 631.27 102.40 631.56 102.40 631.86 102.40 632.15 102.40 632.44 102.40 632.73 102.40 633.02 102.40 633.31 102.40 633.61 102.40 633.90 102.40 634.19 102.40 634.48 102.40 634.77 102.40 635.06 102.40 635.35 102.40 635.65 102.40 635.94 102.40 636.23 102.40 636.52 102.40 636.81 102.40 637.10 102.40 637.39 102.40 637.69 102.40 637.98 102.40 638.27 102.40 638.56 102.40 638.85 102.40 639.14 102.40 639.43 102.40 639.73 102.40 640.02 102.40 640.31 102.40 640.60 102.40 640.89 102.40 641.18 102.40 641.48 102.40 641.77 102.40 642.06 102.40 642.35 102.40 642.64 102.40 642.93 102.40 643.22 102.40 643.52 102.40 643.81 102.40 644.10 102.40 644.39 102.40 644.68 102.40 644.97 102.40 645.26 102.40 645.56 102.40 645.85 102.40 646.14 102.40 646.43 102.40 646.72 102.40 647.01 102.40 647.31 102.40 647.60 102.40 647.89 102.40 648.18 102.40 648.47 102.40 648.76 102.40 649.05 102.40 649.35 102.40 649.64 102.40 649.93 102.40 650.22 102.40 650.51 102.40 650.80 102.40 651.10 102.40 651.39 102.40 651.68 102.40 651.97 102.40 652.26 102.40 652.55 102.40 652.84 102.40 653.14 102.40 653.43 102.40 653.72 102.40 654.01 102.40 654.30 102.40 654.59 102.40 654.88 102.40 655.18 102.40 655.47 102.40 655.76 102.40 656.05 102.40 656.34 102.40 656.63 102.40 656.92 102.40 657.22 102.40 657.51 102.40 657.80 102.40 658.09 102.40 658.38 102.40 658.67 102.40 658.97 102.40 659.26 102.40 659.55 102.40 659.84 102.40 660.13 102.40 660.42 102.40 660.71 102.40 661.01 102.40 661.30 102.40 661.59 102.40 661.88 102.40 662.17 102.40 662.46 102.40 662.75 102.40 663.05 102.40 663.34 102.40 663.63 102.40 663.92 102.40 664.21 102.40 664.50 102.40 664.80 102.40 665.09 102.40 665.38 102.40 665.67 102.40 665.96 102.40 666.25 102.40 666.54 102.40 666.84 102.40 667.13 102.40 667.42 102.40 667.71 102.40 668.00 102.40 668.29 102.40 668.59 102.40 668.88 102.40 669.17 102.40 669.46 102.40 669.75 102.40 670.04 102.40 670.33 102.40 670.63 102.40 670.92 102.40 671.21 102.40 671.50 102.40" class="red"/>
<path d="M438.30 248.16 438.59 248.16 438.88 248.16 439.17 248.16 439.47 248.16 439.76 248.16 440.05 248.16 440.34 248.16 440.63 248.16 440.92 248.16 441.22 248.16 441.51 248.16 441.80 248.16 442.09 248.16 442.38 248.16 442.67 248.16 442.96 248.16 443.26 248.16 443.55 248.16 443.84 248.16 444.13 248.16 444.42 248.16 444.71 248.16 445.00 248.16 445.30 248.16 445.59 248.16 445.88 248.16 446.17 248.16 446.46 248.16 446.75 248.16 447.05 248.16 447.34 248.16 447.63 248.16 447.92 248.16 448.21 248.16 448.50 248.16 448.79 248.16 449.09 248.16 449.38 248.16 449.67 248.16 449.96 248.16 450.25 248.16 450.54 248.16 450.83 248.16 451.13 248.16 451.42 248.16 451.71 248.16 452.00 248.16 452.29 248.16 452.58 248.16 452.88 248.16 453.17 248.16 453.46 248.16 453.75 248.16 454.04 248.16 454.33 248.16 454.62 248.16 454.92 248.16 455.21 248.16 455.50 248.16 455.79 248.16 456.08 248.16 456.37 248.16 456.66 248.16 456.96 248.16 457.25 248.16 457.54 248.16 457.83 248.16 458.12 248.16 458.41 248.16 458.70 248.16 459.00 248.16 459.29 248.16 459.58 248.16 459.87 248.16 460.16 248.16 460.45 248.16 460.75 248.16 461.04 248.16 461.33 248.16 461.62 248.16 461.91 248.16 462.20 248.16 462.49 248.16 462.79 248.16 463.08 248.16 463.37 248.16 463.66 248.16 463.95 248.16 464.24 248.16 464.54 248.16 464.83 248.16 465.12 248.16 465.41 248.16 465.70 248.16 465.99 248.16 466.28 248.16 466.58 248.16 466.87 248.16 467.16 248.16 467.45 248.16 467.74 248.16 468.03 248.16 468.32 248.16 468.62 248.16 468.91 248.16 469.20 248.16 469.49 248.16 469.78 248.16 470.07 248.16 470.37 248.16 470.66 248.16 470.95 248.16 471.24 248.16 471.53 248.16 471.82 248.16 472.11 248.16 472.41 248.16 472.70 248.16 472.99 248.16 473.28 248.16 473.57 248.16 473.86 248.16 474.15 248.16 474.45 248.16 474.74 248.16 475.03 248.16 475.32 248.16 475.61 248.16 475.90 248.16 476.19 248.16 476.49 248.16 476.78 248.16 477.07 248.16 477.36 248.16 477.65 248.16 477.94 248.16 478.24 248.16 478.53 248.16 478.82 248.16 479.11 248.16 479.40 248.16 479.69 248.16 479.98 248.16 480.28 248.16 480.57 248.16 480.86 248.16 481.15 248.16 481.44 248.16 481.73 248.16 482.02 248.16 482.32 248.16 482.61 248.16 482.90 248.16 483.19 248.16 483.48 248.16 483.77 248.16 484.07 248.16 484.36 248.16 484.65 248.16 484.94 248.16 485.23 248.16 485.52 248.16 485.81 248.16 486.11 248.16 486.40 248.16 486.69 248.16 486.98 248.16 487.27 248.16 487.56 248.16 487.86 248.16 488.15 248.16 488.44 248.16 488.73 248.16 489.02 248.16 489.31 248.16 489.60 248.16 489.90 248.16 490.19 248.16 490.48 248.16 490.77 248.16 491.06 248.16 491.35 248.16 491.64 248.16 491.94 248.16 492.23 248.15 492.52 248.15 492.81 248.15 493.10 248.15 493.39 248.15 493.69 248.15 493.98 248.15 494.27 248.15 494.56 248.15 494.85 248.15 495.14 248.15 495.43 248.15 495.73 248.15 496.02 248.15 496.31 248.15 496.60 248.15 496.89 248.15 497.18 248.15 497.47 248.15 497.77 248.15 498.06 248.15 498.35 248.15 498.64 248.15 498.93 248.14 499.22 248.14 499.51 248.14 499.81 248.14 500.10 248.14 500.39 248.14 500.68 248.14 500.97 248.14 501.26 248.13 501.56 248.13 501.85 248.13 502.14 248.13 502.43 248.12 502.72 248.12 503.01 248.12 503.30 248.12 503.60 248.11 503.89 248.11 504.18 248.10 504.47 248.10 504.76 248.10 505.05 248.09 505.35 248.09 505.64 248.08 505.93 248.07 506.22 248.07 506.51 248.06 506.80 248.05 507.09 248.05 507.39 248.04 507.68 248.03 507.97 248.02 508.26 248.01 508.55 248.00 508.84 247.99 509.13 247.98 509.43 247.96 509.72 247.95 510.01 247.93 510.30 247.92 510.59 247.90 510.88 247.89 511.18 247.87 511.47 247.85 511.76 247.83 512.05 247.81 512.34 247.79 512.63 247.76 512.92 247.74 513.22 247.71 513.51 247.69 513.80 247.66 514.09 247.63 514.38 247.59 514.67 247.56 514.96 247.53 515.26 247.49 515.55 247.45 515.84 247.41 516.13 247.37 516.42 247.33 516.71 247.28 517.00 247.23 517.30 247.18 517.59 247.13 517.88 247.08 518.17 247.02 518.46 246.96 518.75 246.90 519.05 246.84 519.34 246.77 519.63 246.70 519.92 246.63 520.21 246.56 520.50 246.48 520.79 246.40 521.09 246.32 521.38 246.24 521.67 246.15 521.96 246.06 522.25 245.96 522.54 245.87 522.84 245.77 523.13 245.66 523.42 245.56 523.71 245.45 524.00 245.33 524.29 245.22 524.58 245.10 524.88 244.97 525.17 244.85 525.46 244.72 525.75 244.58 526.04 244.44 526.33 244.30 526.62 244.16 526.92 244.01 527.21 243.86 527.50 243.70 527.79 243.54 528.08 243.38 528.37 243.21 528.66 243.04 528.96 242.86 529.25 242.69 529.54 242.50 529.83 242.32 530.12 242.13 530.41 241.93 530.71 241.74 531.00 241.53 531.29 241.33 531.58 241.12 531.87 240.91 532.16 240.69 532.45 240.47 532.75 240.25 533.04 240.02 533.33 239.79 533.62 239.55 533.91 239.31 534.20 239.07 534.50 238.82 534.79 238.57 535.08 238.32 535.37 238.06 535.66 237.80 535.95 237.54 536.24 237.27 536.54 237.00 536.83 236.73 537.12 236.45 537.41 236.17 537.70 235.89 537.99 235.60 538.28 235.31 538.58 235.02 538.87 234.73 539.16 234.43 539.45 234.13 539.74 233.82 540.03 233.51 540.33 233.20 540.62 232.89 540.91 232.58 541.20 232.26 541.49 231.94 541.78 231.61 542.07 231.29 542.37 230.96 542.66 230.63 542.95 230.29 543.24 229.96 543.53 229.62 543.82 229.28 544.11 228.93 544.41 228.59 544.70 228.24 544.99 227.89 545.28 227.54 545.57 227.19 545.86 226.83 546.15 226.47 546.45 226.11 546.74 225.75 547.03 225.39 547.32 225.02 547.61 224.66 547.90 224.29 548.20 223.91 548.49 223.54 548.78 223.17 549.07 222.79 549.36 222.41 549.65 222.03 549.94 221.65 550.24 221.27 550.53 220.89 550.82 220.50 551.11 220.11 551.40 219.73 551.69 219.34 551.99 218.94 552.28 218.55 552.57 218.16 552.86 217.76 553.15 217.36 553.44 216.97 553.73 216.57 554.03 216.16 554.32 215.76 554.61 215.36 554.90 214.95 555.19 214.55 555.48 214.14 555.77 213.73 556.07 213.32 556.36 212.91 556.65 212.50 556.94 212.09 557.23 211.67 557.52 211.26 557.82 210.84 558.11 210.43 558.40 210.01 558.69 209.59 558.98 209.17 559.27 208.75 559.56 208.33 559.86 207.90 560.15 207.48 560.44 207.05 560.73 206.63 561.02 206.20 561.31 205.77 561.60 205.34 561.90 204.91 562.19 204.48 562.48 204.05 562.77 203.62 563.06 203.18 563.35 202.75 563.64 202.31 563.94 201.88 564.23 201.44 564.52 201.00 564.81 200.56 565.10 200.12 565.39 199.68 565.69 199.24 565.98 198.80 566.27 198.36 566.56 197.91 566.85 197.47 567.14 197.03 567.43 196.58 567.73 196.13 568.02 195.69 568.31 195.24 568.60 194.79 568.89 194.34 569.18 193.89 569.48 193.44 569.77 192.99 570.06 192.53 570.35 192.08 570.64 191.63 570.93 191.17 571.22 190.72 571.52 190.26 571.81 189.80 572.10 189.35 572.39 188.89 572.68 188.43 572.97 187.97 573.26 187.51 573.56 187.05 573.85 186.59 574.14 186.13 574.43 185.67 574.72 185.20 575.01 184.74 575.31 184.27 575.60 183.81 575.89 183.34 576.18 182.88 576.47 182.41 576.76 181.94 577.05 181.48 577.35 181.01 577.64 180.54 577.93 180.07 578.22 179.60 578.51 179.13 578.80 178.66 579.09 178.18 579.39 177.71 579.68 177.24 579.97 176.76 580.26 176.29 580.55 175.82 580.84 175.34 581.13 174.87 581.43 174.39 581.72 173.91 582.01 173.43 582.30 172.96 582.59 172.48 582.88 172.00 583.18 171.52 583.47 171.04 583.76 170.56 584.05 170.08 584.34 169.60 584.63 169.12 584.92 168.63 585.22 168.15 585.51 167.67 585.80 167.18 586.09 166.70 586.38 166.22 586.67 165.73 586.97 165.24 587.26 164.76 587.55 164.27 587.84 163.79 588.13 163.30 588.42 162.81 588.71 162.32 589.01 161.83 589.30 161.34 589.59 160.85 589.88 160.36 590.17 159.87 590.46 159.38 590.75 158.89 591.05 158.40 591.34 157.91 591.63 157.41 591.92 156.92 592.21 156.43 592.50 155.93 592.79 155.44 593.09 154.95 593.38 154.45 593.67 153.95 593.96 153.46 594.25 152.96 594.54 152.47 594.84 151.97 595.13 151.47 595.42 150.97 595.71 150.48 596.00 149.98 596.29 149.48 596.58 148.98 596.88 148.48 597.17 147.98 597.46 147.48 597.75 146.98 598.04 146.48 598.33 145.98 598.62 145.47 598.92 144.97 599.21 144.47 599.50 143.97 599.79 143.46 600.08 142.96 600.37 142.46 600.67 141.95 600.96 141.45 601.25 140.94 601.54 140.44 601.83 139.93 602.12 139.43 602.41 138.92 602.71 138.41 603.00 137.91 603.29 137.40 603.58 136.89 603.87 136.39 604.16 135.88 604.46 135.37 604.75 134.86 605.04 134.35 605.33 133.84 605.62 133.33 605.91 132.82 606.20 132.31 606.50 131.80 606.79 131.29 607.08 130.78 607.37 130.27 607.66 129.76 607.95 129.25 608.24 128.73 608.54 128.22 608.83 127.71 609.12 127.20 609.41 126.68 609.70 126.17 609.99 125.66 610.28 125.14 610.58 124.63 610.87 124.11 611.16 123.60 611.45 123.08 611.74 122.57 612.03 122.05 612.33 121.54 612.62 121.02 612.91 120.50 613.20 119.99 613.49 119.47 613.78 118.95 614.07 118.44 614.37 117.92 614.66 117.40 614.95 116.88 615.24 116.36 615.53 115.84 615.82 115.33 616.12 114.81 616.41 114.29 616.70 113.77 616.99 113.25 617.28 112.73 617.57 112.21 617.86 111.69 618.16 111.17 618.45 110.65 618.74 110.12 619.03 109.60 619.32 109.08 619.61 108.56 619.90 108.04 620.20 107.52 620.49 106.99 620.78 106.47 621.07 105.95 621.36 105.42 621.65 104.90 621.94 104.38 622.24 103.85 622.53 103.33 622.82 102.81 623.11 102.28 623.40 101.76 623.69 101.23 623.99 100.71 624.28 100.18 624.57 99.66 624.86 99.13 625.15 98.61 625.44 98.08 625.73 97.56 626.03 97.03 626.32 96.50 626.61 95.98 626.90 95.45 627.19 94.92 627.48 94.40 627.77 93.87 628.07 93.34 628.36 92.81 628.65 92.29 628.94 91.76 629.23 91.23 629.52 90.70 629.82 90.17 630.11 89.65 630.40 89.12 630.69 88.59 630.98 88.06 631.27 87.53 631.56 87.00 631.86 86.47 632.15 85.94 632.44 85.41 632.73 84.88 633.02 84.35 633.31 83.82 633.61 83.29 633.90 82.76 634.19 82.23 634.48 81.70 634.77 81.17 635.06 80.64 635.35 80.11 635.65 79.58 635.94 79.04 636.23 78.51 636.52 77.98 636.81 77.45 637.10 76.92 637.39 76.38 637.69 75.85 637.98 75.32 638.27 74.79 638.56 74.25 638.85 73.72 639.14 73.19 639.43 72.66 639.73 72.12 640.02 71.59 640.31 71.06 640.60 70.52 640.89 69.99 641.18 69.45 641.48 68.92 641.77 68.39 642.06 67.85 642.35 67.32 642.64 66.78 642.93 66.25 643.22 65.71 643.52 65.18 643.81 64.64 644.10 64.11 644.39 63.57 644.68 63.04 644.97 62.50 645.26 61.97 645.56 61.43 645.85 60.90 646.14 60.36 646.43 59.83 646.72 59.29 647.01 58.75 647.31 58.22 647.60 57.68 647.89 57.15 648.18 56.61 648.47 56.07 648.76 55.54 649.05 55.00 649.35 54.46 649.64 53.93 649.93 53.39 650.22 52.85 650.51 52.32 650.80 51.78 651.10 51.24 651.39 50.71 651.68 50.17 651.97 49.63 652.26 49.09 652.55 48.56 652.84 48.02 653.14 47.48 653.43 46.94 653.72 46.40 654.01 45.87 654.30 45.33 654.59 44.79 654.88 44.25 655.18 43.71 655.47 43.18 655.76 42.64 656.05 42.10 656.34 41.56 656.63 41.02 656.92 40.48 657.22 39.95 657.51 39.41 657.80 38.87 658.09 38.33 658.38 37.79 658.67 37.25 658.97 36.71 659.26 36.17 659.55 35.63 659.84 35.09 660.13 34.56 660.42 34.02 660.71 33.48 661.01 32.94 661.30 32.40 661.59 31.86 661.88 31.32 662.17 30.78 662.46 30.24 662.75 29.70 663.05 29.16 663.34 28.62 663.63 28.08 663.92 27.54 664.21 27.00 664.50 26.46 664.80 25.92 665.09 25.38 665.38 24.84 665.67 24.30 665.96 23.76 666.25 23.22 666.54 22.68 666.84 22.14 667.13 21.60 667.42 21.06 667.71 20.52 668.00 19.98 668.29 19.44 668.59 18.90 668.88 18.36 669.17 17.82 669.46 17.28 669.75 16.74 670.04 16.20 670.33 15.66 670.63 15.12 670.92 14.57 671.21 14.03 671.50 13.49" class="blue"/>
<circle cx="470.95" cy="248.3" r="3.35" class="pt"/>
<circle cx="480.28" cy="247.9" r="3.35" class="pt"/>
<circle cx="487.27" cy="247.6" r="3.35" class="pt"/>
<circle cx="494.27" cy="246.4" r="3.35" class="pt"/>
<circle cx="512.92" cy="241.6" r="3.35" class="pt"/>
<circle cx="526.92" cy="239.6" r="3.35" class="pt"/>
<circle cx="536.24" cy="234.5" r="3.35" class="pt"/>
<circle cx="545.57" cy="225" r="3.35" class="pt"/>
<circle cx="568.89" cy="199.6" r="3.35" class="pt"/>
<circle cx="575.89" cy="189.4" r="3.35" class="pt"/>
<circle cx="608.54" cy="113" r="3.35" class="pt"/>
<circle cx="615.53" cy="103.4" r="3.35" class="pt"/>
<circle cx="622.53" cy="99.7" r="3.35" class="pt"/>
<circle cx="629.52" cy="98.9" r="3.35" class="pt"/>
<circle cx="636.52" cy="95.4" r="3.35" class="pt"/>
<path d="M86 361.9V619.7H341.5" class="ax"/>
<path d="M97.8 619.7V626.5" class="ax"/>
<text x="97.8" y="641.1" class="tl" text-anchor="middle">0</text>
<path d="M156.1 619.7V626.5" class="ax"/>
<text x="156.1" y="641.1" class="tl" text-anchor="middle">25</text>
<path d="M214.4 619.7V626.5" class="ax"/>
<text x="214.4" y="641.1" class="tl" text-anchor="middle">50</text>
<path d="M272.7 619.7V626.5" class="ax"/>
<text x="272.7" y="641.1" class="tl" text-anchor="middle">75</text>
<path d="M331 619.7V626.5" class="ax"/>
<text x="331" y="641.1" class="tl" text-anchor="middle">100</text>
<path d="M79.8 608.2H86" class="ax"/>
<text x="74.4" y="613.2" class="tl" text-anchor="end">0</text>
<path d="M79.8 543.38H86" class="ax"/>
<text x="74.4" y="548.38" class="tl" text-anchor="end">25</text>
<path d="M79.8 478.55H86" class="ax"/>
<text x="74.4" y="483.55" class="tl" text-anchor="end">50</text>
<path d="M79.8 413.73H86" class="ax"/>
<text x="74.4" y="418.73" class="tl" text-anchor="end">75</text>
<text x="95.3" y="372.4" class="tt">C</text>
<text x="119.6" y="372.4" class="tt">Cotton</text>
<path d="M97.80 604.26 98.09 604.26 98.38 604.26 98.67 604.26 98.97 604.26 99.26 604.26 99.55 604.26 99.84 604.26 100.13 604.26 100.42 604.26 100.72 604.26 101.01 604.26 101.30 604.26 101.59 604.26 101.88 604.26 102.17 604.26 102.46 604.26 102.76 604.26 103.05 604.26 103.34 604.26 103.63 604.26 103.92 604.26 104.21 604.26 104.50 604.26 104.80 604.26 105.09 604.26 105.38 604.26 105.67 604.26 105.96 604.26 106.25 604.26 106.55 604.26 106.84 604.26 107.13 604.26 107.42 604.26 107.71 604.26 108.00 604.26 108.29 604.26 108.59 604.26 108.88 604.26 109.17 604.26 109.46 604.26 109.75 604.26 110.04 604.26 110.33 604.26 110.63 604.26 110.92 604.26 111.21 604.26 111.50 604.26 111.79 604.26 112.08 604.26 112.38 604.26 112.67 604.26 112.96 604.26 113.25 604.26 113.54 604.26 113.83 604.26 114.12 604.26 114.42 604.26 114.71 604.26 115.00 604.26 115.29 604.26 115.58 604.26 115.87 604.26 116.16 604.26 116.46 604.26 116.75 604.26 117.04 604.26 117.33 604.26 117.62 604.26 117.91 604.26 118.20 604.26 118.50 604.26 118.79 604.26 119.08 604.26 119.37 604.26 119.66 604.26 119.95 604.26 120.25 604.26 120.54 604.26 120.83 604.26 121.12 604.26 121.41 604.26 121.70 604.26 121.99 604.26 122.29 604.26 122.58 604.26 122.87 604.26 123.16 604.26 123.45 604.26 123.74 604.26 124.03 604.26 124.33 604.26 124.62 604.26 124.91 604.26 125.20 604.26 125.49 604.26 125.78 604.26 126.08 604.26 126.37 604.26 126.66 604.26 126.95 604.25 127.24 604.25 127.53 604.25 127.82 604.25 128.12 604.25 128.41 604.25 128.70 604.25 128.99 604.25 129.28 604.25 129.57 604.24 129.87 604.24 130.16 604.24 130.45 604.24 130.74 604.24 131.03 604.24 131.32 604.23 131.61 604.23 131.91 604.23 132.20 604.23 132.49 604.22 132.78 604.22 133.07 604.22 133.36 604.22 133.65 604.21 133.95 604.21 134.24 604.21 134.53 604.20 134.82 604.20 135.11 604.20 135.40 604.19 135.69 604.19 135.99 604.19 136.28 604.18 136.57 604.18 136.86 604.17 137.15 604.17 137.44 604.16 137.74 604.16 138.03 604.15 138.32 604.15 138.61 604.14 138.90 604.13 139.19 604.13 139.48 604.12 139.78 604.12 140.07 604.11 140.36 604.10 140.65 604.09 140.94 604.09 141.23 604.08 141.52 604.07 141.82 604.06 142.11 604.05 142.40 604.05 142.69 604.04 142.98 604.03 143.27 604.02 143.57 604.01 143.86 604.00 144.15 603.99 144.44 603.98 144.73 603.96 145.02 603.95 145.31 603.94 145.61 603.93 145.90 603.92 146.19 603.90 146.48 603.89 146.77 603.88 147.06 603.86 147.35 603.85 147.65 603.83 147.94 603.82 148.23 603.80 148.52 603.79 148.81 603.77 149.10 603.75 149.40 603.74 149.69 603.72 149.98 603.70 150.27 603.68 150.56 603.67 150.85 603.65 151.14 603.63 151.44 603.61 151.73 603.59 152.02 603.56 152.31 603.54 152.60 603.52 152.89 603.50 153.19 603.48 153.48 603.45 153.77 603.43 154.06 603.40 154.35 603.38 154.64 603.35 154.93 603.33 155.23 603.30 155.52 603.27 155.81 603.24 156.10 603.22 156.39 603.19 156.68 603.16 156.97 603.13 157.27 603.10 157.56 603.07 157.85 603.03 158.14 603.00 158.43 602.97 158.72 602.93 159.01 602.90 159.31 602.86 159.60 602.83 159.89 602.79 160.18 602.75 160.47 602.72 160.76 602.68 161.06 602.64 161.35 602.60 161.64 602.56 161.93 602.51 162.22 602.47 162.51 602.43 162.80 602.39 163.10 602.34 163.39 602.30 163.68 602.25 163.97 602.20 164.26 602.15 164.55 602.11 164.84 602.06 165.14 602.01 165.43 601.96 165.72 601.90 166.01 601.85 166.30 601.80 166.59 601.74 166.89 601.69 167.18 601.63 167.47 601.57 167.76 601.52 168.05 601.46 168.34 601.40 168.63 601.34 168.93 601.27 169.22 601.21 169.51 601.15 169.80 601.08 170.09 601.02 170.38 600.95 170.68 600.88 170.97 600.81 171.26 600.74 171.55 600.67 171.84 600.60 172.13 600.53 172.42 600.45 172.72 600.38 173.01 600.30 173.30 600.22 173.59 600.15 173.88 600.07 174.17 599.99 174.46 599.90 174.76 599.82 175.05 599.74 175.34 599.65 175.63 599.57 175.92 599.48 176.21 599.39 176.50 599.30 176.80 599.21 177.09 599.12 177.38 599.02 177.67 598.93 177.96 598.83 178.25 598.73 178.55 598.63 178.84 598.53 179.13 598.43 179.42 598.33 179.71 598.23 180.00 598.12 180.29 598.01 180.59 597.91 180.88 597.80 181.17 597.69 181.46 597.57 181.75 597.46 182.04 597.34 182.33 597.23 182.63 597.11 182.92 596.99 183.21 596.87 183.50 596.75 183.79 596.62 184.08 596.50 184.38 596.37 184.67 596.24 184.96 596.11 185.25 595.98 185.54 595.85 185.83 595.71 186.12 595.58 186.42 595.44 186.71 595.30 187.00 595.16 187.29 595.02 187.58 594.87 187.87 594.73 188.16 594.58 188.46 594.43 188.75 594.28 189.04 594.13 189.33 593.97 189.62 593.82 189.91 593.66 190.21 593.50 190.50 593.34 190.79 593.18 191.08 593.01 191.37 592.85 191.66 592.68 191.95 592.51 192.25 592.34 192.54 592.16 192.83 591.99 193.12 591.81 193.41 591.63 193.70 591.45 194.00 591.27 194.29 591.08 194.58 590.89 194.87 590.71 195.16 590.51 195.45 590.32 195.74 590.13 196.04 589.93 196.33 589.73 196.62 589.53 196.91 589.33 197.20 589.12 197.49 588.92 197.78 588.71 198.08 588.50 198.37 588.28 198.66 588.07 198.95 587.85 199.24 587.63 199.53 587.41 199.82 587.18 200.12 586.96 200.41 586.73 200.70 586.50 200.99 586.27 201.28 586.03 201.57 585.80 201.87 585.56 202.16 585.31 202.45 585.07 202.74 584.82 203.03 584.58 203.32 584.32 203.61 584.07 203.91 583.82 204.20 583.56 204.49 583.30 204.78 583.04 205.07 582.77 205.36 582.50 205.65 582.23 205.95 581.96 206.24 581.69 206.53 581.41 206.82 581.13 207.11 580.85 207.40 580.56 207.70 580.27 207.99 579.98 208.28 579.69 208.57 579.40 208.86 579.10 209.15 578.80 209.44 578.50 209.74 578.19 210.03 577.88 210.32 577.57 210.61 577.26 210.90 576.94 211.19 576.62 211.48 576.30 211.78 575.98 212.07 575.65 212.36 575.32 212.65 574.99 212.94 574.65 213.23 574.32 213.53 573.98 213.82 573.63 214.11 573.29 214.40 572.94 214.69 572.58 214.98 572.23 215.27 571.87 215.57 571.51 215.86 571.15 216.15 570.78 216.44 570.41 216.73 570.04 217.02 569.66 217.31 569.28 217.61 568.90 217.90 568.52 218.19 568.13 218.48 567.74 218.77 567.34 219.06 566.95 219.36 566.55 219.65 566.14 219.94 565.74 220.23 565.33 220.52 564.91 220.81 564.50 221.10 564.08 221.40 563.66 221.69 563.23 221.98 562.80 222.27 562.37 222.56 561.93 222.85 561.50 223.14 561.05 223.44 560.61 223.73 560.16 224.02 559.71 224.31 559.25 224.60 558.79 224.89 558.33 225.19 557.87 225.48 557.40 225.77 556.93 226.06 556.45 226.35 555.97 226.64 555.49 226.93 555.00 227.23 554.51 227.52 554.02 227.81 553.52 228.10 553.02 228.39 552.52 228.68 552.01 228.97 551.50 229.27 550.99 229.56 550.47 229.85 549.95 230.14 549.42 230.43 548.89 230.72 548.36 231.02 547.82 231.31 547.28 231.60 546.74 231.89 546.19 232.18 545.64 232.47 545.08 232.76 544.52 233.06 543.96 233.35 543.39 233.64 542.82 233.93 542.25 234.22 541.67 234.51 541.09 234.81 540.50 235.10 539.91 235.39 539.32 235.68 538.72 235.97 538.12 236.26 537.51 236.55 536.90 236.85 536.29 237.14 535.67 237.43 535.05 237.72 534.42 238.01 533.79 238.30 533.16 238.59 532.52 238.89 531.88 239.18 531.23 239.47 530.58 239.76 529.92 240.05 529.26 240.34 528.60 240.63 527.93 240.93 527.26 241.22 526.59 241.51 525.90 241.80 525.22 242.09 524.53 242.38 523.84 242.68 523.14 242.97 522.44 243.26 521.73 243.55 521.02 243.84 520.31 244.13 519.59 244.42 518.87 244.72 518.14 245.01 517.41 245.30 516.67 245.59 515.93 245.88 515.18 246.17 514.43 246.46 513.68 246.76 512.92 247.05 512.15 247.34 511.39 247.63 510.61 247.92 509.84 248.21 509.05 248.51 508.27 248.80 507.48 249.09 506.68 249.38 505.88 249.67 505.08 249.96 504.27 250.25 503.45 250.55 502.63 250.84 501.81 251.13 500.98 251.42 500.15 251.71 499.31 252.00 498.47 252.29 497.62 252.59 496.77 252.88 495.91 253.17 495.05 253.46 494.18 253.75 493.31 254.04 492.43 254.34 491.55 254.63 490.67 254.92 489.78 255.21 488.88 255.50 487.98 255.79 487.07 256.08 486.16 256.38 485.25 256.67 484.33 256.96 483.40 257.25 482.47 257.54 481.54 257.83 480.60 258.12 479.65 258.42 478.70 258.71 477.75 259.00 476.79 259.29 475.82 259.58 474.85 259.87 473.88 260.17 472.90 260.46 471.91 260.75 470.92 261.04 469.93 261.33 468.92 261.62 467.92 261.91 466.91 262.21 465.89 262.50 464.87 262.79 463.85 263.08 462.82 263.37 461.78 263.66 460.74 263.95 459.69 264.25 458.64 264.54 457.58 264.83 456.52 265.12 455.46 265.41 454.38 265.70 453.31 266.00 452.22 266.29 451.14 266.58 450.05 266.87 448.95 267.16 447.84 267.45 446.74 267.74 445.62 268.04 444.51 268.33 443.38 268.62 442.26 268.91 441.12 269.20 439.98 269.49 438.84 269.78 437.69 270.08 436.54 270.37 435.38 270.66 434.22 270.95 433.05 271.24 431.88 271.53 430.70 271.83 429.52 272.12 428.33 272.41 427.14 272.70 425.94 272.99 424.74 273.28 423.53 273.57 422.32 273.87 421.10 274.16 419.88 274.45 418.66 274.74 417.43 275.03 416.19 275.32 414.95 275.62 413.71 275.91 412.46 276.20 411.21 276.49 409.96 276.78 408.70 277.07 407.44 277.36 406.17 277.66 404.90 277.95 403.63 278.24 402.36 278.53 401.09 278.82 399.82 279.11 398.55 279.40 397.28 279.70 396.02 279.99 394.76 280.28 393.52 280.57 392.30 280.86 391.10 281.15 389.92 281.44 388.78 281.74 387.69 282.03 386.63 282.32 385.63 282.61 384.69 282.90 383.82 283.19 383.02 283.49 382.29 283.78 381.63 284.07 381.05 284.36 380.55 284.65 380.11 284.94 379.74 285.23 379.44 285.53 379.18 285.82 378.98 286.11 378.82 286.40 378.70 286.69 378.60 286.98 378.53 287.27 378.47 287.57 378.44 287.86 378.41 288.15 378.39 288.44 378.38 288.73 378.37 289.02 378.36 289.32 378.36 289.61 378.36 289.90 378.35 290.19 378.35 290.48 378.35 290.77 378.35 291.06 378.35 291.36 378.35 291.65 378.35 291.94 378.35 292.23 378.35 292.52 378.35 292.81 378.35 293.10 378.35 293.40 378.35 293.69 378.35 293.98 378.35 294.27 378.35 294.56 378.35 294.85 378.35 295.15 378.35 295.44 378.35 295.73 378.35 296.02 378.35 296.31 378.35 296.60 378.35 296.89 378.35 297.19 378.35 297.48 378.35 297.77 378.35 298.06 378.35 298.35 378.35 298.64 378.35 298.94 378.35 299.23 378.35 299.52 378.35 299.81 378.35 300.10 378.35 300.39 378.35 300.68 378.35 300.98 378.35 301.27 378.35 301.56 378.35 301.85 378.35 302.14 378.35 302.43 378.35 302.72 378.35 303.02 378.35 303.31 378.35 303.60 378.35 303.89 378.35 304.18 378.35 304.47 378.35 304.76 378.35 305.06 378.35 305.35 378.35 305.64 378.35 305.93 378.35 306.22 378.35 306.51 378.35 306.81 378.35 307.10 378.35 307.39 378.35 307.68 378.35 307.97 378.35 308.26 378.35 308.55 378.35 308.85 378.35 309.14 378.35 309.43 378.35 309.72 378.35 310.01 378.35 310.30 378.35 310.59 378.35 310.89 378.35 311.18 378.35 311.47 378.35 311.76 378.35 312.05 378.35 312.34 378.35 312.64 378.35 312.93 378.35 313.22 378.35 313.51 378.35 313.80 378.35 314.09 378.35 314.38 378.35 314.68 378.35 314.97 378.35 315.26 378.35 315.55 378.35 315.84 378.35 316.13 378.35 316.43 378.35 316.72 378.35 317.01 378.35 317.30 378.35 317.59 378.35 317.88 378.35 318.17 378.35 318.47 378.35 318.76 378.35 319.05 378.35 319.34 378.35 319.63 378.35 319.92 378.35 320.21 378.35 320.51 378.35 320.80 378.35 321.09 378.35 321.38 378.35 321.67 378.35 321.96 378.35 322.25 378.35 322.55 378.35 322.84 378.35 323.13 378.35 323.42 378.35 323.71 378.35 324.00 378.35 324.30 378.35 324.59 378.35 324.88 378.35 325.17 378.35 325.46 378.35 325.75 378.35 326.04 378.35 326.34 378.35 326.63 378.35 326.92 378.35 327.21 378.35 327.50 378.35 327.79 378.35 328.08 378.35 328.38 378.35 328.67 378.35 328.96 378.35 329.25 378.35 329.54 378.35 329.83 378.35 330.13 378.35 330.42 378.35 330.71 378.35 331.00 378.35" class="red"/>
<path d="M97.80 608.00 98.09 608.00 98.38 608.00 98.67 608.00 98.97 608.00 99.26 608.00 99.55 608.00 99.84 608.00 100.13 608.00 100.42 608.00 100.72 608.00 101.01 608.00 101.30 608.00 101.59 608.00 101.88 608.00 102.17 607.99 102.46 607.99 102.76 607.99 103.05 607.99 103.34 607.99 103.63 607.99 103.92 607.99 104.21 607.99 104.50 607.99 104.80 607.99 105.09 607.99 105.38 607.99 105.67 607.99 105.96 607.99 106.25 607.99 106.55 607.98 106.84 607.98 107.13 607.98 107.42 607.98 107.71 607.98 108.00 607.98 108.29 607.98 108.59 607.98 108.88 607.98 109.17 607.98 109.46 607.97 109.75 607.97 110.04 607.97 110.33 607.97 110.63 607.97 110.92 607.97 111.21 607.97 111.50 607.97 111.79 607.96 112.08 607.96 112.38 607.96 112.67 607.96 112.96 607.96 113.25 607.96 113.54 607.96 113.83 607.95 114.12 607.95 114.42 607.95 114.71 607.95 115.00 607.95 115.29 607.95 115.58 607.94 115.87 607.94 116.16 607.94 116.46 607.94 116.75 607.94 117.04 607.93 117.33 607.93 117.62 607.93 117.91 607.93 118.20 607.92 118.50 607.92 118.79 607.92 119.08 607.92 119.37 607.91 119.66 607.91 119.95 607.91 120.25 607.91 120.54 607.90 120.83 607.90 121.12 607.90 121.41 607.89 121.70 607.89 121.99 607.89 122.29 607.88 122.58 607.88 122.87 607.88 123.16 607.87 123.45 607.87 123.74 607.87 124.03 607.86 124.33 607.86 124.62 607.85 124.91 607.85 125.20 607.85 125.49 607.84 125.78 607.84 126.08 607.83 126.37 607.83 126.66 607.82 126.95 607.82 127.24 607.81 127.53 607.81 127.82 607.80 128.12 607.80 128.41 607.79 128.70 607.79 128.99 607.78 129.28 607.78 129.57 607.77 129.87 607.77 130.16 607.76 130.45 607.75 130.74 607.75 131.03 607.74 131.32 607.73 131.61 607.73 131.91 607.72 132.20 607.71 132.49 607.71 132.78 607.70 133.07 607.69 133.36 607.69 133.65 607.68 133.95 607.67 134.24 607.66 134.53 607.65 134.82 607.65 135.11 607.64 135.40 607.63 135.69 607.62 135.99 607.61 136.28 607.60 136.57 607.59 136.86 607.58 137.15 607.57 137.44 607.56 137.74 607.55 138.03 607.54 138.32 607.53 138.61 607.52 138.90 607.51 139.19 607.50 139.48 607.49 139.78 607.48 140.07 607.47 140.36 607.46 140.65 607.44 140.94 607.43 141.23 607.42 141.52 607.41 141.82 607.39 142.11 607.38 142.40 607.37 142.69 607.35 142.98 607.34 143.27 607.32 143.57 607.31 143.86 607.29 144.15 607.28 144.44 607.26 144.73 607.25 145.02 607.23 145.31 607.22 145.61 607.20 145.90 607.18 146.19 607.17 146.48 607.15 146.77 607.13 147.06 607.11 147.35 607.10 147.65 607.08 147.94 607.06 148.23 607.04 148.52 607.02 148.81 607.00 149.10 606.98 149.40 606.96 149.69 606.94 149.98 606.92 150.27 606.90 150.56 606.87 150.85 606.85 151.14 606.83 151.44 606.81 151.73 606.78 152.02 606.76 152.31 606.73 152.60 606.71 152.89 606.69 153.19 606.66 153.48 606.63 153.77 606.61 154.06 606.58 154.35 606.55 154.64 606.53 154.93 606.50 155.23 606.47 155.52 606.44 155.81 606.41 156.10 606.38 156.39 606.35 156.68 606.32 156.97 606.29 157.27 606.26 157.56 606.23 157.85 606.19 158.14 606.16 158.43 606.13 158.72 606.09 159.01 606.06 159.31 606.02 159.60 605.99 159.89 605.95 160.18 605.91 160.47 605.87 160.76 605.84 161.06 605.80 161.35 605.76 161.64 605.72 161.93 605.68 162.22 605.64 162.51 605.60 162.80 605.55 163.10 605.51 163.39 605.47 163.68 605.42 163.97 605.38 164.26 605.33 164.55 605.29 164.84 605.24 165.14 605.19 165.43 605.14 165.72 605.09 166.01 605.04 166.30 604.99 166.59 604.94 166.89 604.89 167.18 604.84 167.47 604.78 167.76 604.73 168.05 604.68 168.34 604.62 168.63 604.56 168.93 604.51 169.22 604.45 169.51 604.39 169.80 604.33 170.09 604.27 170.38 604.21 170.68 604.15 170.97 604.08 171.26 604.02 171.55 603.95 171.84 603.89 172.13 603.82 172.42 603.75 172.72 603.68 173.01 603.62 173.30 603.55 173.59 603.47 173.88 603.40 174.17 603.33 174.46 603.25 174.76 603.18 175.05 603.10 175.34 603.03 175.63 602.95 175.92 602.87 176.21 602.79 176.50 602.71 176.80 602.62 177.09 602.54 177.38 602.46 177.67 602.37 177.96 602.28 178.25 602.19 178.55 602.11 178.84 602.02 179.13 601.92 179.42 601.83 179.71 601.74 180.00 601.64 180.29 601.55 180.59 601.45 180.88 601.35 181.17 601.25 181.46 601.15 181.75 601.05 182.04 600.94 182.33 600.84 182.63 600.73 182.92 600.62 183.21 600.52 183.50 600.40 183.79 600.29 184.08 600.18 184.38 600.07 184.67 599.95 184.96 599.83 185.25 599.71 185.54 599.59 185.83 599.47 186.12 599.35 186.42 599.22 186.71 599.10 187.00 598.97 187.29 598.84 187.58 598.71 187.87 598.58 188.16 598.44 188.46 598.31 188.75 598.17 189.04 598.03 189.33 597.89 189.62 597.75 189.91 597.61 190.21 597.46 190.50 597.32 190.79 597.17 191.08 597.02 191.37 596.86 191.66 596.71 191.95 596.56 192.25 596.40 192.54 596.24 192.83 596.08 193.12 595.91 193.41 595.75 193.70 595.58 194.00 595.42 194.29 595.24 194.58 595.07 194.87 594.90 195.16 594.72 195.45 594.54 195.74 594.36 196.04 594.18 196.33 594.00 196.62 593.81 196.91 593.62 197.20 593.43 197.49 593.24 197.78 593.05 198.08 592.85 198.37 592.65 198.66 592.45 198.95 592.25 199.24 592.04 199.53 591.83 199.82 591.63 200.12 591.41 200.41 591.20 200.70 590.98 200.99 590.76 201.28 590.54 201.57 590.32 201.87 590.09 202.16 589.87 202.45 589.64 202.74 589.40 203.03 589.17 203.32 588.93 203.61 588.69 203.91 588.45 204.20 588.20 204.49 587.95 204.78 587.70 205.07 587.45 205.36 587.19 205.65 586.94 205.95 586.68 206.24 586.41 206.53 586.15 206.82 585.88 207.11 585.61 207.40 585.33 207.70 585.06 207.99 584.78 208.28 584.49 208.57 584.21 208.86 583.92 209.15 583.63 209.44 583.34 209.74 583.04 210.03 582.74 210.32 582.44 210.61 582.13 210.90 581.82 211.19 581.51 211.48 581.20 211.78 580.88 212.07 580.56 212.36 580.24 212.65 579.91 212.94 579.58 213.23 579.25 213.53 578.91 213.82 578.57 214.11 578.23 214.40 577.88 214.69 577.54 214.98 577.18 215.27 576.83 215.57 576.47 215.86 576.11 216.15 575.74 216.44 575.37 216.73 575.00 217.02 574.63 217.31 574.25 217.61 573.86 217.90 573.48 218.19 573.09 218.48 572.70 218.77 572.30 219.06 571.90 219.36 571.50 219.65 571.09 219.94 570.68 220.23 570.26 220.52 569.85 220.81 569.42 221.10 569.00 221.40 568.57 221.69 568.14 221.98 567.70 222.27 567.26 222.56 566.81 222.85 566.37 223.14 565.91 223.44 565.46 223.73 565.00 224.02 564.54 224.31 564.07 224.60 563.60 224.89 563.12 225.19 562.64 225.48 562.16 225.77 561.67 226.06 561.18 226.35 560.68 226.64 560.18 226.93 559.68 227.23 559.17 227.52 558.66 227.81 558.14 228.10 557.62 228.39 557.09 228.68 556.56 228.97 556.03 229.27 555.49 229.56 554.95 229.85 554.40 230.14 553.85 230.43 553.30 230.72 552.74 231.02 552.17 231.31 551.61 231.60 551.03 231.89 550.46 232.18 549.87 232.47 549.29 232.76 548.70 233.06 548.10 233.35 547.50 233.64 546.90 233.93 546.29 234.22 545.67 234.51 545.06 234.81 544.43 235.10 543.80 235.39 543.17 235.68 542.54 235.97 541.89 236.26 541.25 236.55 540.60 236.85 539.94 237.14 539.28 237.43 538.61 237.72 537.94 238.01 537.27 238.30 536.59 238.59 535.90 238.89 535.21 239.18 534.52 239.47 533.82 239.76 533.12 240.05 532.41 240.34 531.69 240.63 530.97 240.93 530.25 241.22 529.52 241.51 528.79 241.80 528.05 242.09 527.30 242.38 526.55 242.68 525.80 242.97 525.04 243.26 524.28 243.55 523.51 243.84 522.74 244.13 521.96 244.42 521.17 244.72 520.38 245.01 519.59 245.30 518.79 245.59 517.99 245.88 517.18 246.17 516.36 246.46 515.54 246.76 514.72 247.05 513.89 247.34 513.05 247.63 512.21 247.92 511.37 248.21 510.52 248.51 509.67 248.80 508.81 249.09 507.94 249.38 507.07 249.67 506.20 249.96 505.32 250.25 504.43 250.55 503.54 250.84 502.64 251.13 501.74 251.42 500.84 251.71 499.93 252.00 499.01 252.29 498.09 252.59 497.17 252.88 496.24 253.17 495.30 253.46 494.36 253.75 493.42 254.04 492.47 254.34 491.51 254.63 490.55 254.92 489.59 255.21 488.62 255.50 487.65 255.79 486.67 256.08 485.69 256.38 484.70 256.67 483.71 256.96 482.71 257.25 481.71 257.54 480.70 257.83 479.69 258.12 478.68 258.42 477.66 258.71 476.63 259.00 475.60 259.29 474.57 259.58 473.53 259.87 472.49 260.17 471.45 260.46 470.40 260.75 469.34 261.04 468.28 261.33 467.22 261.62 466.16 261.91 465.09 262.21 464.01 262.50 462.94 262.79 461.86 263.08 460.77 263.37 459.68 263.66 458.59 263.95 457.50 264.25 456.40 264.54 455.30 264.83 454.19 265.12 453.09 265.41 451.98 265.70 450.86 266.00 449.75 266.29 448.63 266.58 447.51 266.87 446.38 267.16 445.26 267.45 444.13 267.74 443.00 268.04 441.87 268.33 440.73 268.62 439.59 268.91 438.46 269.20 437.32 269.49 436.18 269.78 435.03 270.08 433.89 270.37 432.75 270.66 431.60 270.95 430.46 271.24 429.31 271.53 428.17 271.83 427.02 272.12 425.88 272.41 424.73 272.70 423.59 272.99 422.44 273.28 421.30 273.57 420.16 273.87 419.02 274.16 417.88 274.45 416.74 274.74 415.61 275.03 414.48 275.32 413.35 275.62 412.22 275.91 411.10 276.20 409.98 276.49 408.87 276.78 407.76 277.07 406.65 277.36 405.55 277.66 404.46 277.95 403.37 278.24 402.29 278.53 401.22 278.82 400.15 279.11 399.09 279.40 398.04 279.70 397.00 279.99 395.97 280.28 394.96 280.57 393.95 280.86 392.95 281.15 391.97 281.44 391.01 281.74 390.06 282.03 389.12 282.32 388.20 282.61 387.31 282.90 386.43 283.19 385.57 283.49 384.74 283.78 383.94 284.07 383.16 284.36 382.40 284.65 381.68 284.94 380.99 285.23 380.33 285.53 379.70 285.82 379.11 286.11 378.56 286.40 378.04 286.69 377.56 286.98 377.11 287.27 376.70 287.57 376.32 287.86 375.98 288.15 375.68 288.44 375.40 288.73 375.16 289.02 374.95 289.32 374.76 289.61 374.60 289.90 374.46 290.19 374.34 290.48 374.24 290.77 374.16 291.06 374.09 291.36 374.03 291.65 373.99 291.94 373.95 292.23 373.92 292.52 373.89 292.81 373.88 293.10 373.86 293.40 373.85 293.69 373.84 293.98 373.84 294.27 373.83 294.56 373.83 294.85 373.82 295.15 373.82 295.44 373.82 295.73 373.82 296.02 373.82 296.31 373.82 296.60 373.82 296.89 373.82 297.19 373.82 297.48 373.82 297.77 373.82 298.06 373.82 298.35 373.82 298.64 373.82 298.94 373.82 299.23 373.82 299.52 373.82 299.81 373.82 300.10 373.82 300.39 373.82 300.68 373.82 300.98 373.82 301.27 373.82 301.56 373.82 301.85 373.82 302.14 373.82 302.43 373.82 302.72 373.82 303.02 373.82 303.31 373.82 303.60 373.82 303.89 373.82 304.18 373.82 304.47 373.82 304.76 373.82 305.06 373.82 305.35 373.82 305.64 373.82 305.93 373.82 306.22 373.82 306.51 373.82 306.81 373.82 307.10 373.82 307.39 373.82 307.68 373.82 307.97 373.82 308.26 373.82 308.55 373.82 308.85 373.82 309.14 373.82 309.43 373.82 309.72 373.82 310.01 373.82 310.30 373.82 310.59 373.82 310.89 373.82 311.18 373.82 311.47 373.82 311.76 373.82 312.05 373.82 312.34 373.82 312.64 373.82 312.93 373.82 313.22 373.82 313.51 373.82 313.80 373.82 314.09 373.82 314.38 373.82 314.68 373.82 314.97 373.82 315.26 373.82 315.55 373.82 315.84 373.82 316.13 373.82 316.43 373.82 316.72 373.82 317.01 373.82 317.30 373.82 317.59 373.82 317.88 373.82 318.17 373.82 318.47 373.82 318.76 373.82 319.05 373.82 319.34 373.82 319.63 373.82 319.92 373.82 320.21 373.82 320.51 373.82 320.80 373.82 321.09 373.82 321.38 373.82 321.67 373.82 321.96 373.82 322.25 373.82 322.55 373.82 322.84 373.82 323.13 373.82 323.42 373.82 323.71 373.82 324.00 373.82 324.30 373.82 324.59 373.82 324.88 373.82 325.17 373.82 325.46 373.82 325.75 373.82 326.04 373.82 326.34 373.82 326.63 373.82 326.92 373.82 327.21 373.82 327.50 373.82 327.79 373.82 328.08 373.82 328.38 373.82 328.67 373.82 328.96 373.82 329.25 373.82 329.54 373.82 329.83 373.82 330.13 373.82 330.42 373.82 330.71 373.82 331.00 373.82" class="blue"/>
<circle cx="130.45" cy="608.2" r="3.35" class="pt"/>
<circle cx="139.78" cy="607.8" r="3.35" class="pt"/>
<circle cx="146.77" cy="607.3" r="3.35" class="pt"/>
<circle cx="153.77" cy="607" r="3.35" class="pt"/>
<circle cx="172.42" cy="604.1" r="3.35" class="pt"/>
<circle cx="186.42" cy="600.6" r="3.35" class="pt"/>
<circle cx="195.74" cy="594.7" r="3.35" class="pt"/>
<circle cx="205.07" cy="566.7" r="3.35" class="pt"/>
<circle cx="228.39" cy="559.9" r="3.35" class="pt"/>
<circle cx="235.39" cy="551.4" r="3.35" class="pt"/>
<circle cx="268.04" cy="446.1" r="3.35" class="pt"/>
<circle cx="275.03" cy="408.3" r="3.35" class="pt"/>
<circle cx="282.03" cy="387.7" r="3.35" class="pt"/>
<circle cx="289.02" cy="381" r="3.35" class="pt"/>
<circle cx="296.02" cy="372.5" r="3.35" class="pt"/>
<path d="M434 361.9V619.8H681.6" class="ax"/>
<path d="M445.4 619.8V626.6" class="ax"/>
<text x="445.4" y="641.2" class="tl" text-anchor="middle">0</text>
<path d="M502.02 619.8V626.6" class="ax"/>
<text x="502.02" y="641.2" class="tl" text-anchor="middle">25</text>
<path d="M558.65 619.8V626.6" class="ax"/>
<text x="558.65" y="641.2" class="tl" text-anchor="middle">50</text>
<path d="M615.27 619.8V626.6" class="ax"/>
<text x="615.27" y="641.2" class="tl" text-anchor="middle">75</text>
<path d="M671.9 619.8V626.6" class="ax"/>
<text x="671.9" y="641.2" class="tl" text-anchor="middle">100</text>
<path d="M427.8 608H434" class="ax"/>
<text x="422.4" y="613" class="tl" text-anchor="end">0</text>
<path d="M427.8 546.5H434" class="ax"/>
<text x="422.4" y="551.5" class="tl" text-anchor="end">50</text>
<path d="M427.8 485H434" class="ax"/>
<text x="422.4" y="490" class="tl" text-anchor="end">100</text>
<path d="M427.8 423.5H434" class="ax"/>
<text x="422.4" y="428.5" class="tl" text-anchor="end">150</text>
<path d="M427.8 362H434" class="ax"/>
<text x="422.4" y="367" class="tl" text-anchor="end">200</text>
<text x="443.16" y="372.4" class="tt">D</text>
<text x="467.4" y="372.4" class="tt">Sweet sorghum</text>
<path d="M445.40 604.03 445.68 604.03 445.97 604.03 446.25 604.03 446.53 604.03 446.82 604.03 447.10 604.03 447.38 604.03 447.66 604.03 447.95 604.03 448.23 604.03 448.51 604.03 448.80 604.03 449.08 604.03 449.36 604.03 449.65 604.03 449.93 604.03 450.21 604.03 450.50 604.03 450.78 604.03 451.06 604.03 451.35 604.03 451.63 604.03 451.91 604.03 452.19 604.03 452.48 604.03 452.76 604.03 453.04 604.03 453.33 604.03 453.61 604.03 453.89 604.03 454.18 604.03 454.46 604.03 454.74 604.03 455.03 604.03 455.31 604.03 455.59 604.03 455.88 604.03 456.16 604.03 456.44 604.03 456.72 604.03 457.01 604.03 457.29 604.03 457.57 604.03 457.86 604.03 458.14 604.03 458.42 604.03 458.71 604.03 458.99 604.03 459.27 604.03 459.56 604.03 459.84 604.03 460.12 604.03 460.41 604.03 460.69 604.03 460.97 604.03 461.25 604.03 461.54 604.03 461.82 604.03 462.10 604.03 462.39 604.03 462.67 604.03 462.95 604.03 463.24 604.03 463.52 604.03 463.80 604.03 464.09 604.03 464.37 604.03 464.65 604.03 464.94 604.03 465.22 604.03 465.50 604.03 465.78 604.03 466.07 604.03 466.35 604.03 466.63 604.03 466.92 604.03 467.20 604.03 467.48 604.03 467.77 604.03 468.05 604.03 468.33 604.03 468.62 604.03 468.90 604.03 469.18 604.03 469.47 604.03 469.75 604.03 470.03 604.03 470.31 604.03 470.60 604.03 470.88 604.03 471.16 604.03 471.45 604.03 471.73 604.03 472.01 604.03 472.30 604.03 472.58 604.03 472.86 604.03 473.15 604.03 473.43 604.03 473.71 604.03 474.00 604.03 474.28 604.03 474.56 604.03 474.84 604.03 475.13 604.03 475.41 604.03 475.69 604.03 475.98 604.03 476.26 604.03 476.54 604.03 476.83 604.03 477.11 604.03 477.39 604.03 477.68 604.03 477.96 604.03 478.24 604.03 478.53 604.03 478.81 604.03 479.09 604.03 479.38 604.03 479.66 604.03 479.94 604.03 480.22 604.03 480.51 604.03 480.79 604.03 481.07 604.03 481.36 604.03 481.64 604.03 481.92 604.03 482.21 604.03 482.49 604.03 482.77 604.03 483.06 604.03 483.34 604.03 483.62 604.03 483.90 604.03 484.19 604.03 484.47 604.03 484.75 604.03 485.04 604.03 485.32 604.03 485.60 604.03 485.89 604.03 486.17 604.03 486.45 604.03 486.74 604.03 487.02 604.03 487.30 604.03 487.59 604.03 487.87 604.03 488.15 604.03 488.44 604.03 488.72 604.03 489.00 604.03 489.28 604.03 489.57 604.03 489.85 604.03 490.13 604.03 490.42 604.03 490.70 604.03 490.98 604.03 491.27 604.03 491.55 604.03 491.83 604.03 492.12 604.03 492.40 604.03 492.68 604.03 492.96 604.03 493.25 604.03 493.53 604.03 493.81 604.03 494.10 604.03 494.38 604.03 494.66 604.03 494.95 604.03 495.23 604.03 495.51 604.03 495.80 604.03 496.08 604.03 496.36 604.03 496.65 604.02 496.93 604.02 497.21 604.02 497.50 604.02 497.78 604.01 498.06 604.01 498.34 604.00 498.63 604.00 498.91 603.99 499.19 603.98 499.48 603.98 499.76 603.97 500.04 603.96 500.33 603.95 500.61 603.94 500.89 603.92 501.18 603.91 501.46 603.90 501.74 603.88 502.02 603.86 502.31 603.85 502.59 603.83 502.87 603.81 503.16 603.79 503.44 603.76 503.72 603.74 504.01 603.72 504.29 603.69 504.57 603.66 504.86 603.63 505.14 603.60 505.42 603.57 505.71 603.54 505.99 603.51 506.27 603.47 506.55 603.44 506.84 603.40 507.12 603.36 507.40 603.32 507.69 603.27 507.97 603.23 508.25 603.19 508.54 603.14 508.82 603.09 509.10 603.04 509.39 602.99 509.67 602.94 509.95 602.88 510.24 602.82 510.52 602.77 510.80 602.71 511.08 602.65 511.37 602.58 511.65 602.52 511.93 602.45 512.22 602.38 512.50 602.31 512.78 602.24 513.07 602.17 513.35 602.09 513.63 602.02 513.92 601.94 514.20 601.86 514.48 601.77 514.77 601.69 515.05 601.60 515.33 601.52 515.62 601.43 515.90 601.34 516.18 601.24 516.46 601.15 516.75 601.05 517.03 600.95 517.31 600.85 517.60 600.74 517.88 600.64 518.16 600.53 518.45 600.42 518.73 600.31 519.01 600.20 519.30 600.08 519.58 599.96 519.86 599.84 520.14 599.72 520.43 599.60 520.71 599.47 520.99 599.34 521.28 599.21 521.56 599.08 521.84 598.95 522.13 598.81 522.41 598.67 522.69 598.53 522.98 598.39 523.26 598.24 523.54 598.09 523.83 597.94 524.11 597.79 524.39 597.63 524.67 597.48 524.96 597.32 525.24 597.16 525.52 596.99 525.81 596.83 526.09 596.66 526.37 596.49 526.66 596.31 526.94 596.14 527.22 595.96 527.51 595.78 527.79 595.60 528.07 595.41 528.36 595.22 528.64 595.03 528.92 594.84 529.20 594.65 529.49 594.45 529.77 594.25 530.05 594.05 530.34 593.84 530.62 593.63 530.90 593.42 531.19 593.21 531.47 593.00 531.75 592.78 532.04 592.56 532.32 592.34 532.60 592.11 532.89 591.88 533.17 591.65 533.45 591.42 533.74 591.18 534.02 590.94 534.30 590.70 534.58 590.46 534.87 590.21 535.15 589.96 535.43 589.71 535.72 589.46 536.00 589.20 536.28 588.94 536.57 588.68 536.85 588.41 537.13 588.14 537.42 587.87 537.70 587.60 537.98 587.32 538.26 587.04 538.55 586.76 538.83 586.48 539.11 586.19 539.40 585.90 539.68 585.60 539.96 585.31 540.25 585.01 540.53 584.71 540.81 584.40 541.10 584.09 541.38 583.78 541.66 583.47 541.95 583.15 542.23 582.83 542.51 582.51 542.79 582.18 543.08 581.85 543.36 581.52 543.64 581.19 543.93 580.85 544.21 580.51 544.49 580.17 544.78 579.82 545.06 579.47 545.34 579.12 545.63 578.76 545.91 578.40 546.19 578.04 546.48 577.68 546.76 577.31 547.04 576.94 547.33 576.56 547.61 576.18 547.89 575.80 548.17 575.42 548.46 575.03 548.74 574.64 549.02 574.25 549.31 573.85 549.59 573.45 549.87 573.05 550.16 572.64 550.44 572.23 550.72 571.82 551.01 571.41 551.29 570.99 551.57 570.56 551.86 570.14 552.14 569.71 552.42 569.28 552.70 568.84 552.99 568.40 553.27 567.96 553.55 567.51 553.84 567.07 554.12 566.61 554.40 566.16 554.69 565.70 554.97 565.23 555.25 564.77 555.54 564.30 555.82 563.83 556.10 563.35 556.38 562.87 556.67 562.39 556.95 561.90 557.23 561.41 557.52 560.92 557.80 560.42 558.08 559.92 558.37 559.41 558.65 558.91 558.93 558.39 559.22 557.88 559.50 557.36 559.78 556.84 560.07 556.31 560.35 555.78 560.63 555.25 560.91 554.71 561.20 554.17 561.48 553.63 561.76 553.08 562.05 552.53 562.33 551.98 562.61 551.42 562.90 550.86 563.18 550.29 563.46 549.72 563.75 549.15 564.03 548.57 564.31 547.99 564.60 547.40 564.88 546.81 565.16 546.22 565.44 545.63 565.73 545.03 566.01 544.42 566.29 543.81 566.58 543.20 566.86 542.59 567.14 541.97 567.43 541.35 567.71 540.72 567.99 540.09 568.28 539.45 568.56 538.81 568.84 538.17 569.13 537.52 569.41 536.87 569.69 536.22 569.98 535.56 570.26 534.90 570.54 534.23 570.82 533.56 571.11 532.88 571.39 532.21 571.67 531.52 571.96 530.84 572.24 530.14 572.52 529.45 572.81 528.75 573.09 528.05 573.37 527.34 573.66 526.63 573.94 525.91 574.22 525.19 574.50 524.47 574.79 523.74 575.07 523.00 575.35 522.27 575.64 521.52 575.92 520.78 576.20 520.03 576.49 519.27 576.77 518.52 577.05 517.75 577.34 516.99 577.62 516.21 577.90 515.44 578.19 514.66 578.47 513.87 578.75 513.08 579.03 512.29 579.32 511.49 579.60 510.69 579.88 509.88 580.17 509.07 580.45 508.25 580.73 507.43 581.02 506.61 581.30 505.78 581.58 504.94 581.87 504.10 582.15 503.26 582.43 502.41 582.72 501.56 583.00 500.70 583.28 499.84 583.57 498.97 583.85 498.10 584.13 497.22 584.41 496.34 584.70 495.45 584.98 494.56 585.26 493.66 585.55 492.76 585.83 491.86 586.11 490.95 586.40 490.03 586.68 489.11 586.96 488.19 587.25 487.25 587.53 486.32 587.81 485.38 588.10 484.43 588.38 483.48 588.66 482.53 588.94 481.57 589.23 480.60 589.51 479.63 589.79 478.65 590.08 477.67 590.36 476.68 590.64 475.69 590.93 474.69 591.21 473.69 591.49 472.68 591.78 471.67 592.06 470.65 592.34 469.62 592.62 468.59 592.91 467.56 593.19 466.52 593.47 465.47 593.76 464.42 594.04 463.36 594.32 462.29 594.61 461.22 594.89 460.15 595.17 459.07 595.46 457.98 595.74 456.89 596.02 455.79 596.31 454.68 596.59 453.57 596.87 452.46 597.15 451.33 597.44 450.20 597.72 449.07 598.00 447.92 598.29 446.78 598.57 445.62 598.85 444.46 599.14 443.29 599.42 442.12 599.70 440.94 599.99 439.75 600.27 438.55 600.55 437.35 600.84 436.14 601.12 434.93 601.40 433.70 601.68 432.47 601.97 431.24 602.25 429.99 602.53 428.74 602.82 427.48 603.10 426.21 603.38 424.93 603.67 423.65 603.95 422.36 604.23 421.06 604.52 419.75 604.80 418.43 605.08 417.10 605.37 415.77 605.65 414.42 605.93 413.07 606.21 411.70 606.50 410.32 606.78 408.94 607.06 407.54 607.35 406.13 607.63 404.71 607.91 403.28 608.20 401.84 608.48 400.39 608.76 398.92 609.05 397.46 609.33 395.98 609.61 394.51 609.90 393.05 610.18 391.61 610.46 390.20 610.75 388.82 611.03 387.50 611.31 386.24 611.59 385.06 611.88 383.98 612.16 382.99 612.44 382.11 612.73 381.35 613.01 380.69 613.29 380.15 613.58 379.70 613.86 379.34 614.14 379.06 614.43 378.85 614.71 378.69 614.99 378.58 615.27 378.50 615.56 378.45 615.84 378.41 616.12 378.39 616.41 378.37 616.69 378.36 616.97 378.36 617.26 378.35 617.54 378.35 617.82 378.35 618.11 378.35 618.39 378.35 618.67 378.35 618.96 378.35 619.24 378.35 619.52 378.35 619.80 378.35 620.09 378.35 620.37 378.35 620.65 378.35 620.94 378.35 621.22 378.35 621.50 378.35 621.79 378.35 622.07 378.35 622.35 378.35 622.64 378.35 622.92 378.35 623.20 378.35 623.49 378.35 623.77 378.35 624.05 378.35 624.34 378.35 624.62 378.35 624.90 378.35 625.18 378.35 625.47 378.35 625.75 378.35 626.03 378.35 626.32 378.35 626.60 378.35 626.88 378.35 627.17 378.35 627.45 378.35 627.73 378.35 628.02 378.35 628.30 378.35 628.58 378.35 628.87 378.35 629.15 378.35 629.43 378.35 629.71 378.35 630.00 378.35 630.28 378.35 630.56 378.35 630.85 378.35 631.13 378.35 631.41 378.35 631.70 378.35 631.98 378.35 632.26 378.35 632.55 378.35 632.83 378.35 633.11 378.35 633.39 378.35 633.68 378.35 633.96 378.35 634.24 378.35 634.53 378.35 634.81 378.35 635.09 378.35 635.38 378.35 635.66 378.35 635.94 378.35 636.23 378.35 636.51 378.35 636.79 378.35 637.08 378.35 637.36 378.35 637.64 378.35 637.92 378.35 638.21 378.35 638.49 378.35 638.77 378.35 639.06 378.35 639.34 378.35 639.62 378.35 639.91 378.35 640.19 378.35 640.47 378.35 640.76 378.35 641.04 378.35 641.32 378.35 641.61 378.35 641.89 378.35 642.17 378.35 642.45 378.35 642.74 378.35 643.02 378.35 643.30 378.35 643.59 378.35 643.87 378.35 644.15 378.35 644.44 378.35 644.72 378.35 645.00 378.35 645.29 378.35 645.57 378.35 645.85 378.35 646.14 378.35 646.42 378.35 646.70 378.35 646.99 378.35 647.27 378.35 647.55 378.35 647.83 378.35 648.12 378.35 648.40 378.35 648.68 378.35 648.97 378.35 649.25 378.35 649.53 378.35 649.82 378.35 650.10 378.35 650.38 378.35 650.67 378.35 650.95 378.35 651.23 378.35 651.51 378.35 651.80 378.35 652.08 378.35 652.36 378.35 652.65 378.35 652.93 378.35 653.21 378.35 653.50 378.35 653.78 378.35 654.06 378.35 654.35 378.35 654.63 378.35 654.91 378.35 655.20 378.35 655.48 378.35 655.76 378.35 656.04 378.35 656.33 378.35 656.61 378.35 656.89 378.35 657.18 378.35 657.46 378.35 657.74 378.35 658.03 378.35 658.31 378.35 658.59 378.35 658.88 378.35 659.16 378.35 659.44 378.35 659.73 378.35 660.01 378.35 660.29 378.35 660.58 378.35 660.86 378.35 661.14 378.35 661.42 378.35 661.71 378.35 661.99 378.35 662.27 378.35 662.56 378.35 662.84 378.35 663.12 378.35 663.41 378.35 663.69 378.35 663.97 378.35 664.26 378.35 664.54 378.35 664.82 378.35 665.11 378.35 665.39 378.35 665.67 378.35 665.95 378.35 666.24 378.35 666.52 378.35 666.80 378.35 667.09 378.35 667.37 378.35 667.65 378.35 667.94 378.35 668.22 378.35 668.50 378.35 668.79 378.35 669.07 378.35 669.35 378.35 669.63 378.35 669.92 378.35 670.20 378.35 670.48 378.35 670.77 378.35 671.05 378.35 671.33 378.35 671.62 378.35 671.90 378.35" class="red"/>
<path d="M445.40 607.28 445.68 607.28 445.97 607.28 446.25 607.28 446.53 607.28 446.82 607.28 447.10 607.28 447.38 607.28 447.66 607.28 447.95 607.28 448.23 607.28 448.51 607.28 448.80 607.28 449.08 607.28 449.36 607.28 449.65 607.28 449.93 607.28 450.21 607.28 450.50 607.28 450.78 607.28 451.06 607.28 451.35 607.28 451.63 607.28 451.91 607.28 452.19 607.28 452.48 607.28 452.76 607.28 453.04 607.28 453.33 607.28 453.61 607.28 453.89 607.28 454.18 607.28 454.46 607.28 454.74 607.28 455.03 607.28 455.31 607.28 455.59 607.28 455.88 607.28 456.16 607.28 456.44 607.28 456.72 607.28 457.01 607.28 457.29 607.28 457.57 607.28 457.86 607.28 458.14 607.28 458.42 607.28 458.71 607.28 458.99 607.28 459.27 607.28 459.56 607.28 459.84 607.28 460.12 607.28 460.41 607.28 460.69 607.28 460.97 607.28 461.25 607.28 461.54 607.28 461.82 607.28 462.10 607.28 462.39 607.28 462.67 607.28 462.95 607.28 463.24 607.28 463.52 607.28 463.80 607.28 464.09 607.28 464.37 607.28 464.65 607.28 464.94 607.28 465.22 607.27 465.50 607.27 465.78 607.27 466.07 607.27 466.35 607.27 466.63 607.27 466.92 607.27 467.20 607.27 467.48 607.27 467.77 607.27 468.05 607.27 468.33 607.27 468.62 607.27 468.90 607.27 469.18 607.27 469.47 607.27 469.75 607.27 470.03 607.27 470.31 607.27 470.60 607.27 470.88 607.27 471.16 607.27 471.45 607.27 471.73 607.27 472.01 607.27 472.30 607.27 472.58 607.26 472.86 607.26 473.15 607.26 473.43 607.26 473.71 607.26 474.00 607.26 474.28 607.26 474.56 607.26 474.84 607.26 475.13 607.26 475.41 607.25 475.69 607.25 475.98 607.25 476.26 607.25 476.54 607.25 476.83 607.25 477.11 607.24 477.39 607.24 477.68 607.24 477.96 607.24 478.24 607.24 478.53 607.23 478.81 607.23 479.09 607.23 479.38 607.23 479.66 607.23 479.94 607.22 480.22 607.22 480.51 607.22 480.79 607.21 481.07 607.21 481.36 607.21 481.64 607.20 481.92 607.20 482.21 607.20 482.49 607.19 482.77 607.19 483.06 607.18 483.34 607.18 483.62 607.18 483.90 607.17 484.19 607.17 484.47 607.16 484.75 607.16 485.04 607.15 485.32 607.15 485.60 607.14 485.89 607.13 486.17 607.13 486.45 607.12 486.74 607.12 487.02 607.11 487.30 607.10 487.59 607.09 487.87 607.09 488.15 607.08 488.44 607.07 488.72 607.06 489.00 607.06 489.28 607.05 489.57 607.04 489.85 607.03 490.13 607.02 490.42 607.01 490.70 607.00 490.98 606.99 491.27 606.98 491.55 606.97 491.83 606.96 492.12 606.94 492.40 606.93 492.68 606.92 492.96 606.91 493.25 606.89 493.53 606.88 493.81 606.87 494.10 606.85 494.38 606.84 494.66 606.82 494.95 606.81 495.23 606.79 495.51 606.78 495.80 606.76 496.08 606.74 496.36 606.73 496.65 606.71 496.93 606.69 497.21 606.67 497.50 606.65 497.78 606.63 498.06 606.61 498.34 606.59 498.63 606.57 498.91 606.55 499.19 606.52 499.48 606.50 499.76 606.48 500.04 606.45 500.33 606.43 500.61 606.40 500.89 606.38 501.18 606.35 501.46 606.32 501.74 606.30 502.02 606.27 502.31 606.24 502.59 606.21 502.87 606.18 503.16 606.15 503.44 606.12 503.72 606.08 504.01 606.05 504.29 606.02 504.57 605.98 504.86 605.95 505.14 605.91 505.42 605.87 505.71 605.84 505.99 605.80 506.27 605.76 506.55 605.72 506.84 605.68 507.12 605.63 507.40 605.59 507.69 605.55 507.97 605.50 508.25 605.46 508.54 605.41 508.82 605.36 509.10 605.32 509.39 605.27 509.67 605.22 509.95 605.17 510.24 605.11 510.52 605.06 510.80 605.01 511.08 604.95 511.37 604.89 511.65 604.84 511.93 604.78 512.22 604.72 512.50 604.66 512.78 604.60 513.07 604.53 513.35 604.47 513.63 604.40 513.92 604.34 514.20 604.27 514.48 604.20 514.77 604.13 515.05 604.06 515.33 603.99 515.62 603.91 515.90 603.84 516.18 603.76 516.46 603.68 516.75 603.60 517.03 603.52 517.31 603.44 517.60 603.36 517.88 603.27 518.16 603.18 518.45 603.10 518.73 603.01 519.01 602.92 519.30 602.82 519.58 602.73 519.86 602.63 520.14 602.54 520.43 602.44 520.71 602.34 520.99 602.24 521.28 602.13 521.56 602.03 521.84 601.92 522.13 601.81 522.41 601.70 522.69 601.59 522.98 601.48 523.26 601.36 523.54 601.24 523.83 601.12 524.11 601.00 524.39 600.88 524.67 600.75 524.96 600.63 525.24 600.50 525.52 600.37 525.81 600.24 526.09 600.10 526.37 599.96 526.66 599.83 526.94 599.69 527.22 599.54 527.51 599.40 527.79 599.25 528.07 599.10 528.36 598.95 528.64 598.80 528.92 598.64 529.20 598.48 529.49 598.32 529.77 598.16 530.05 598.00 530.34 597.83 530.62 597.66 530.90 597.49 531.19 597.32 531.47 597.14 531.75 596.96 532.04 596.78 532.32 596.60 532.60 596.41 532.89 596.22 533.17 596.03 533.45 595.84 533.74 595.64 534.02 595.44 534.30 595.24 534.58 595.04 534.87 594.83 535.15 594.62 535.43 594.41 535.72 594.19 536.00 593.98 536.28 593.76 536.57 593.53 536.85 593.31 537.13 593.08 537.42 592.85 537.70 592.61 537.98 592.38 538.26 592.13 538.55 591.89 538.83 591.64 539.11 591.39 539.40 591.14 539.68 590.89 539.96 590.63 540.25 590.37 540.53 590.10 540.81 589.83 541.10 589.56 541.38 589.29 541.66 589.01 541.95 588.73 542.23 588.44 542.51 588.16 542.79 587.86 543.08 587.57 543.36 587.27 543.64 586.97 543.93 586.67 544.21 586.36 544.49 586.05 544.78 585.73 545.06 585.41 545.34 585.09 545.63 584.76 545.91 584.43 546.19 584.10 546.48 583.76 546.76 583.42 547.04 583.08 547.33 582.73 547.61 582.38 547.89 582.02 548.17 581.66 548.46 581.30 548.74 580.93 549.02 580.56 549.31 580.19 549.59 579.81 549.87 579.43 550.16 579.04 550.44 578.65 550.72 578.25 551.01 577.85 551.29 577.45 551.57 577.04 551.86 576.63 552.14 576.22 552.42 575.80 552.70 575.37 552.99 574.94 553.27 574.51 553.55 574.07 553.84 573.63 554.12 573.19 554.40 572.74 554.69 572.28 554.97 571.82 555.25 571.36 555.54 570.89 555.82 570.42 556.10 569.94 556.38 569.46 556.67 568.98 556.95 568.49 557.23 567.99 557.52 567.49 557.80 566.99 558.08 566.48 558.37 565.97 558.65 565.45 558.93 564.92 559.22 564.40 559.50 563.86 559.78 563.33 560.07 562.78 560.35 562.24 560.63 561.68 560.91 561.13 561.20 560.57 561.48 560.00 561.76 559.43 562.05 558.85 562.33 558.27 562.61 557.68 562.90 557.09 563.18 556.49 563.46 555.89 563.75 555.28 564.03 554.67 564.31 554.05 564.60 553.43 564.88 552.80 565.16 552.17 565.44 551.53 565.73 550.89 566.01 550.24 566.29 549.59 566.58 548.93 566.86 548.26 567.14 547.59 567.43 546.92 567.71 546.24 567.99 545.55 568.28 544.86 568.56 544.17 568.84 543.46 569.13 542.76 569.41 542.04 569.69 541.33 569.98 540.60 570.26 539.87 570.54 539.14 570.82 538.40 571.11 537.65 571.39 536.90 571.67 536.15 571.96 535.38 572.24 534.62 572.52 533.84 572.81 533.06 573.09 532.28 573.37 531.49 573.66 530.70 573.94 529.89 574.22 529.09 574.50 528.28 574.79 527.46 575.07 526.64 575.35 525.81 575.64 524.97 575.92 524.13 576.20 523.29 576.49 522.44 576.77 521.58 577.05 520.72 577.34 519.85 577.62 518.97 577.90 518.10 578.19 517.21 578.47 516.32 578.75 515.42 579.03 514.52 579.32 513.62 579.60 512.70 579.88 511.79 580.17 510.86 580.45 509.93 580.73 509.00 581.02 508.06 581.30 507.11 581.58 506.16 581.87 505.21 582.15 504.24 582.43 503.28 582.72 502.30 583.00 501.33 583.28 500.34 583.57 499.35 583.85 498.36 584.13 497.36 584.41 496.36 584.70 495.35 584.98 494.33 585.26 493.31 585.55 492.28 585.83 491.25 586.11 490.22 586.40 489.18 586.68 488.13 586.96 487.08 587.25 486.03 587.53 484.97 587.81 483.90 588.10 482.83 588.38 481.76 588.66 480.68 588.94 479.59 589.23 478.51 589.51 477.41 589.79 476.31 590.08 475.21 590.36 474.11 590.64 473.00 590.93 471.88 591.21 470.76 591.49 469.64 591.78 468.51 592.06 467.38 592.34 466.25 592.62 465.11 592.91 463.96 593.19 462.82 593.47 461.67 593.76 460.52 594.04 459.36 594.32 458.20 594.61 457.04 594.89 455.87 595.17 454.70 595.46 453.53 595.74 452.36 596.02 451.18 596.31 450.00 596.59 448.82 596.87 447.63 597.15 446.45 597.44 445.26 597.72 444.07 598.00 442.88 598.29 441.68 598.57 440.49 598.85 439.29 599.14 438.10 599.42 436.90 599.70 435.70 599.99 434.50 600.27 433.30 600.55 432.10 600.84 430.91 601.12 429.71 601.40 428.51 601.68 427.31 601.97 426.12 602.25 424.92 602.53 423.73 602.82 422.54 603.10 421.35 603.38 420.16 603.67 418.98 603.95 417.80 604.23 416.62 604.52 415.45 604.80 414.28 605.08 413.11 605.37 411.95 605.65 410.80 605.93 409.65 606.21 408.51 606.50 407.37 606.78 406.24 607.06 405.12 607.35 404.01 607.63 402.91 607.91 401.82 608.20 400.74 608.48 399.67 608.76 398.62 609.05 397.58 609.33 396.55 609.61 395.54 609.90 394.55 610.18 393.58 610.46 392.63 610.75 391.70 611.03 390.79 611.31 389.91 611.59 389.05 611.88 388.23 612.16 387.43 612.44 386.67 612.73 385.94 613.01 385.25 613.29 384.59 613.58 383.97 613.86 383.39 614.14 382.84 614.43 382.34 614.71 381.87 614.99 381.45 615.27 381.06 615.56 380.70 615.84 380.39 616.12 380.11 616.41 379.85 616.69 379.64 616.97 379.44 617.26 379.28 617.54 379.13 617.82 379.01 618.11 378.91 618.39 378.82 618.67 378.75 618.96 378.69 619.24 378.65 619.52 378.61 619.80 378.58 620.09 378.55 620.37 378.53 620.65 378.52 620.94 378.51 621.22 378.50 621.50 378.49 621.79 378.49 622.07 378.48 622.35 378.48 622.64 378.48 622.92 378.48 623.20 378.48 623.49 378.48 623.77 378.48 624.05 378.48 624.34 378.48 624.62 378.48 624.90 378.47 625.18 378.47 625.47 378.47 625.75 378.47 626.03 378.47 626.32 378.47 626.60 378.47 626.88 378.47 627.17 378.47 627.45 378.47 627.73 378.47 628.02 378.47 628.30 378.47 628.58 378.47 628.87 378.47 629.15 378.47 629.43 378.47 629.71 378.47 630.00 378.47 630.28 378.47 630.56 378.47 630.85 378.47 631.13 378.47 631.41 378.47 631.70 378.47 631.98 378.47 632.26 378.47 632.55 378.47 632.83 378.47 633.11 378.47 633.39 378.47 633.68 378.47 633.96 378.47 634.24 378.47 634.53 378.47 634.81 378.47 635.09 378.47 635.38 378.47 635.66 378.47 635.94 378.47 636.23 378.47 636.51 378.47 636.79 378.47 637.08 378.47 637.36 378.47 637.64 378.47 637.92 378.47 638.21 378.47 638.49 378.47 638.77 378.47 639.06 378.47 639.34 378.47 639.62 378.47 639.91 378.47 640.19 378.47 640.47 378.47 640.76 378.47 641.04 378.47 641.32 378.47 641.61 378.47 641.89 378.47 642.17 378.47 642.45 378.47 642.74 378.47 643.02 378.47 643.30 378.47 643.59 378.47 643.87 378.47 644.15 378.47 644.44 378.47 644.72 378.47 645.00 378.47 645.29 378.47 645.57 378.47 645.85 378.47 646.14 378.47 646.42 378.47 646.70 378.47 646.99 378.47 647.27 378.47 647.55 378.47 647.83 378.47 648.12 378.47 648.40 378.47 648.68 378.47 648.97 378.47 649.25 378.47 649.53 378.47 649.82 378.47 650.10 378.47 650.38 378.47 650.67 378.47 650.95 378.47 651.23 378.47 651.51 378.47 651.80 378.47 652.08 378.47 652.36 378.47 652.65 378.47 652.93 378.47 653.21 378.47 653.50 378.47 653.78 378.47 654.06 378.47 654.35 378.47 654.63 378.47 654.91 378.47 655.20 378.47 655.48 378.47 655.76 378.47 656.04 378.47 656.33 378.47 656.61 378.47 656.89 378.47 657.18 378.47 657.46 378.47 657.74 378.47 658.03 378.47 658.31 378.47 658.59 378.47 658.88 378.47 659.16 378.47 659.44 378.47 659.73 378.47 660.01 378.47 660.29 378.47 660.58 378.47 660.86 378.47 661.14 378.47 661.42 378.47 661.71 378.47 661.99 378.47 662.27 378.47 662.56 378.47 662.84 378.47 663.12 378.47 663.41 378.47 663.69 378.47 663.97 378.47 664.26 378.47 664.54 378.47 664.82 378.47 665.11 378.47 665.39 378.47 665.67 378.47 665.95 378.47 666.24 378.47 666.52 378.47 666.80 378.47 667.09 378.47 667.37 378.47 667.65 378.47 667.94 378.47 668.22 378.47 668.50 378.47 668.79 378.47 669.07 378.47 669.35 378.47 669.63 378.47 669.92 378.47 670.20 378.47 670.48 378.47 670.77 378.47 671.05 378.47 671.33 378.47 671.62 378.47 671.90 378.47" class="blue"/>
<circle cx="477.11" cy="607.7" r="3.35" class="pt"/>
<circle cx="486.17" cy="607.7" r="3.35" class="pt"/>
<circle cx="492.96" cy="607.7" r="3.35" class="pt"/>
<circle cx="499.76" cy="607" r="3.35" class="pt"/>
<circle cx="517.88" cy="603.8" r="3.35" class="pt"/>
<circle cx="531.47" cy="600.3" r="3.35" class="pt"/>
<circle cx="540.53" cy="576.6" r="3.35" class="pt"/>
<circle cx="549.59" cy="578.4" r="3.35" class="pt"/>
<circle cx="572.24" cy="528.3" r="3.35" class="pt"/>
<circle cx="579.03" cy="525" r="3.35" class="pt"/>
<circle cx="610.75" cy="384.8" r="3.35" class="pt"/>
<circle cx="617.54" cy="390.9" r="3.35" class="pt"/>
<circle cx="624.34" cy="377.3" r="3.35" class="pt"/>
<circle cx="631.13" cy="372.5" r="3.35" class="pt"/>
<circle cx="637.92" cy="380.5" r="3.35" class="pt"/>
<text class="lab" x="339.2" y="699.5" textLength="130.5" lengthAdjust="spacing">Time (Days)</text>
<text class="lab" transform="translate(19.9 365.5) rotate(-90)" textLength="155" lengthAdjust="spacing">Dry weight (g)</text>
</svg>
</body></html>
